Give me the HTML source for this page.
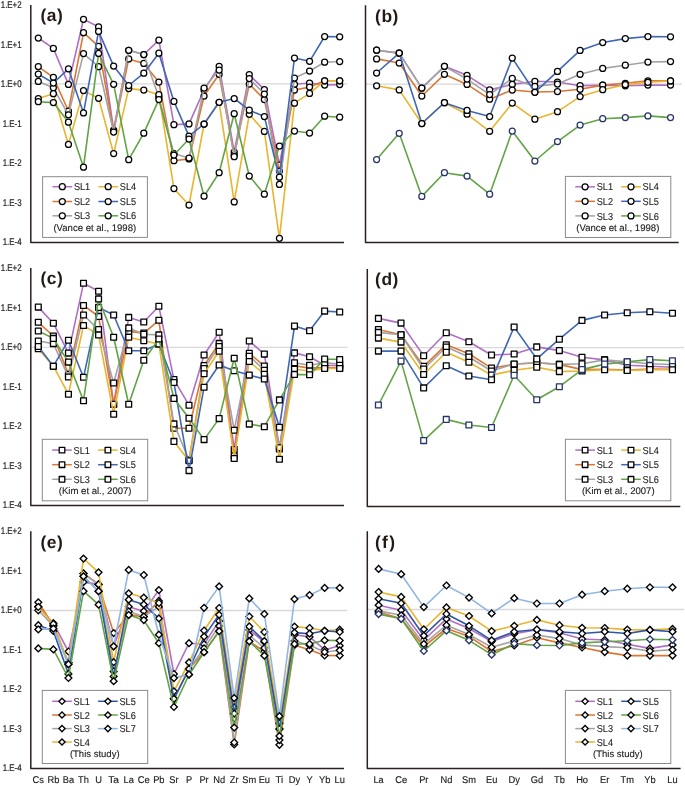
<!DOCTYPE html>
<html><head><meta charset="utf-8"><style>
html,body{margin:0;padding:0;background:#fff;}
svg{display:block;will-change:transform;}
text{font-family:"Liberation Sans",sans-serif;fill:#1c1c1c;text-rendering:geometricPrecision;}
.yl{fill:#2a2a2a;stroke:#2a2a2a;stroke-width:0.22px;}
.xl{stroke:#1c1c1c;stroke-width:0.15px;}
.lg{stroke:#1c1c1c;stroke-width:0.12px;}
.pl{font-size:17.4px;font-weight:bold;fill:#231a17;}
</style></head><body>
<svg width="685" height="786" viewBox="0 0 685 786">
<rect width="685" height="786" fill="#fff"/>
<line x1="30.8" y1="83.80" x2="347.5" y2="83.80" stroke="#d9d9d9" stroke-width="1.3"/>
<path d="M38.30 38.00L53.37 48.40L68.44 84.40L83.51 19.30L98.58 26.90L113.65 130.00L128.72 50.30L143.79 54.50L158.86 40.20L173.93 124.70L189.00 123.90L204.07 90.00L219.14 66.30L234.21 152.00L249.28 74.60L264.35 89.60L279.42 165.00L294.49 84.30L309.56 83.00L324.63 85.00L339.70 84.60" fill="none" stroke="#b06fc4" stroke-width="1.6" stroke-linejoin="round"/>
<circle cx="38.30" cy="38.00" r="3.0" fill="#fff" stroke="#000" stroke-width="1.25"/>
<circle cx="53.37" cy="48.40" r="3.0" fill="#fff" stroke="#000" stroke-width="1.25"/>
<circle cx="68.44" cy="84.40" r="3.0" fill="#fff" stroke="#000" stroke-width="1.25"/>
<circle cx="83.51" cy="19.30" r="3.0" fill="#fff" stroke="#000" stroke-width="1.25"/>
<circle cx="98.58" cy="26.90" r="3.0" fill="#fff" stroke="#000" stroke-width="1.25"/>
<circle cx="113.65" cy="130.00" r="3.0" fill="#fff" stroke="#000" stroke-width="1.25"/>
<circle cx="128.72" cy="50.30" r="3.0" fill="#fff" stroke="#000" stroke-width="1.25"/>
<circle cx="143.79" cy="54.50" r="3.0" fill="#fff" stroke="#000" stroke-width="1.25"/>
<circle cx="158.86" cy="40.20" r="3.0" fill="#fff" stroke="#000" stroke-width="1.25"/>
<circle cx="173.93" cy="124.70" r="3.0" fill="#fff" stroke="#000" stroke-width="1.25"/>
<circle cx="189.00" cy="123.90" r="3.0" fill="#fff" stroke="#000" stroke-width="1.25"/>
<circle cx="204.07" cy="90.00" r="3.0" fill="#fff" stroke="#000" stroke-width="1.25"/>
<circle cx="219.14" cy="66.30" r="3.0" fill="#fff" stroke="#000" stroke-width="1.25"/>
<circle cx="234.21" cy="152.00" r="3.0" fill="#fff" stroke="#000" stroke-width="1.25"/>
<circle cx="249.28" cy="74.60" r="3.0" fill="#fff" stroke="#000" stroke-width="1.25"/>
<circle cx="264.35" cy="89.60" r="3.0" fill="#fff" stroke="#000" stroke-width="1.25"/>
<circle cx="279.42" cy="165.00" r="3.0" fill="#fff" stroke="#000" stroke-width="1.25"/>
<circle cx="294.49" cy="84.30" r="3.0" fill="#fff" stroke="#000" stroke-width="1.25"/>
<circle cx="309.56" cy="83.00" r="3.0" fill="#fff" stroke="#000" stroke-width="1.25"/>
<circle cx="324.63" cy="85.00" r="3.0" fill="#fff" stroke="#000" stroke-width="1.25"/>
<circle cx="339.70" cy="84.60" r="3.0" fill="#fff" stroke="#000" stroke-width="1.25"/>
<path d="M38.30 66.60L53.37 77.30L68.44 111.00L83.51 32.70L98.58 46.30L113.65 131.00L128.72 58.90L143.79 63.40L158.86 82.10L173.93 160.70L189.00 158.90L204.07 96.00L219.14 74.30L234.21 155.00L249.28 84.10L264.35 99.50L279.42 171.00L294.49 90.00L309.56 87.10L324.63 80.80L339.70 80.80" fill="none" stroke="#dc7633" stroke-width="1.6" stroke-linejoin="round"/>
<circle cx="38.30" cy="66.60" r="3.0" fill="#fff" stroke="#000" stroke-width="1.25"/>
<circle cx="53.37" cy="77.30" r="3.0" fill="#fff" stroke="#000" stroke-width="1.25"/>
<circle cx="68.44" cy="111.00" r="3.0" fill="#fff" stroke="#000" stroke-width="1.25"/>
<circle cx="83.51" cy="32.70" r="3.0" fill="#fff" stroke="#000" stroke-width="1.25"/>
<circle cx="98.58" cy="46.30" r="3.0" fill="#fff" stroke="#000" stroke-width="1.25"/>
<circle cx="113.65" cy="131.00" r="3.0" fill="#fff" stroke="#000" stroke-width="1.25"/>
<circle cx="128.72" cy="58.90" r="3.0" fill="#fff" stroke="#000" stroke-width="1.25"/>
<circle cx="143.79" cy="63.40" r="3.0" fill="#fff" stroke="#000" stroke-width="1.25"/>
<circle cx="158.86" cy="82.10" r="3.0" fill="#fff" stroke="#000" stroke-width="1.25"/>
<circle cx="173.93" cy="160.70" r="3.0" fill="#fff" stroke="#000" stroke-width="1.25"/>
<circle cx="189.00" cy="158.90" r="3.0" fill="#fff" stroke="#000" stroke-width="1.25"/>
<circle cx="204.07" cy="96.00" r="3.0" fill="#fff" stroke="#000" stroke-width="1.25"/>
<circle cx="219.14" cy="74.30" r="3.0" fill="#fff" stroke="#000" stroke-width="1.25"/>
<circle cx="234.21" cy="155.00" r="3.0" fill="#fff" stroke="#000" stroke-width="1.25"/>
<circle cx="249.28" cy="84.10" r="3.0" fill="#fff" stroke="#000" stroke-width="1.25"/>
<circle cx="264.35" cy="99.50" r="3.0" fill="#fff" stroke="#000" stroke-width="1.25"/>
<circle cx="279.42" cy="171.00" r="3.0" fill="#fff" stroke="#000" stroke-width="1.25"/>
<circle cx="294.49" cy="90.00" r="3.0" fill="#fff" stroke="#000" stroke-width="1.25"/>
<circle cx="309.56" cy="87.10" r="3.0" fill="#fff" stroke="#000" stroke-width="1.25"/>
<circle cx="324.63" cy="80.80" r="3.0" fill="#fff" stroke="#000" stroke-width="1.25"/>
<circle cx="339.70" cy="80.80" r="3.0" fill="#fff" stroke="#000" stroke-width="1.25"/>
<path d="M38.30 81.40L53.37 87.80L68.44 114.80L83.51 53.60L98.58 66.70L113.65 132.00L128.72 50.30L143.79 54.50L158.86 97.00L173.93 153.60L189.00 158.00L204.07 88.00L219.14 70.00L234.21 156.70L249.28 78.50L264.35 94.00L279.42 184.40L294.49 78.00L309.56 71.00L324.63 62.20L339.70 61.50" fill="none" stroke="#a3a3a3" stroke-width="1.6" stroke-linejoin="round"/>
<circle cx="38.30" cy="81.40" r="3.0" fill="#fff" stroke="#000" stroke-width="1.25"/>
<circle cx="53.37" cy="87.80" r="3.0" fill="#fff" stroke="#000" stroke-width="1.25"/>
<circle cx="68.44" cy="114.80" r="3.0" fill="#fff" stroke="#000" stroke-width="1.25"/>
<circle cx="83.51" cy="53.60" r="3.0" fill="#fff" stroke="#000" stroke-width="1.25"/>
<circle cx="98.58" cy="66.70" r="3.0" fill="#fff" stroke="#000" stroke-width="1.25"/>
<circle cx="113.65" cy="132.00" r="3.0" fill="#fff" stroke="#000" stroke-width="1.25"/>
<circle cx="128.72" cy="50.30" r="3.0" fill="#fff" stroke="#000" stroke-width="1.25"/>
<circle cx="143.79" cy="54.50" r="3.0" fill="#fff" stroke="#000" stroke-width="1.25"/>
<circle cx="158.86" cy="97.00" r="3.0" fill="#fff" stroke="#000" stroke-width="1.25"/>
<circle cx="173.93" cy="153.60" r="3.0" fill="#fff" stroke="#000" stroke-width="1.25"/>
<circle cx="189.00" cy="158.00" r="3.0" fill="#fff" stroke="#000" stroke-width="1.25"/>
<circle cx="204.07" cy="88.00" r="3.0" fill="#fff" stroke="#000" stroke-width="1.25"/>
<circle cx="219.14" cy="70.00" r="3.0" fill="#fff" stroke="#000" stroke-width="1.25"/>
<circle cx="234.21" cy="156.70" r="3.0" fill="#fff" stroke="#000" stroke-width="1.25"/>
<circle cx="249.28" cy="78.50" r="3.0" fill="#fff" stroke="#000" stroke-width="1.25"/>
<circle cx="264.35" cy="94.00" r="3.0" fill="#fff" stroke="#000" stroke-width="1.25"/>
<circle cx="279.42" cy="184.40" r="3.0" fill="#fff" stroke="#000" stroke-width="1.25"/>
<circle cx="294.49" cy="78.00" r="3.0" fill="#fff" stroke="#000" stroke-width="1.25"/>
<circle cx="309.56" cy="71.00" r="3.0" fill="#fff" stroke="#000" stroke-width="1.25"/>
<circle cx="324.63" cy="62.20" r="3.0" fill="#fff" stroke="#000" stroke-width="1.25"/>
<circle cx="339.70" cy="61.50" r="3.0" fill="#fff" stroke="#000" stroke-width="1.25"/>
<path d="M38.30 98.60L53.37 93.70L68.44 144.40L83.51 90.60L98.58 98.30L113.65 153.60L128.72 88.60L143.79 90.10L158.86 94.70L173.93 188.60L189.00 205.00L204.07 124.00L219.14 102.30L234.21 201.90L249.28 114.30L264.35 131.40L279.42 238.30L294.49 103.20L309.56 93.40L324.63 80.80L339.70 80.80" fill="none" stroke="#e9b42f" stroke-width="1.6" stroke-linejoin="round"/>
<circle cx="38.30" cy="98.60" r="3.0" fill="#fff" stroke="#000" stroke-width="1.25"/>
<circle cx="53.37" cy="93.70" r="3.0" fill="#fff" stroke="#000" stroke-width="1.25"/>
<circle cx="68.44" cy="144.40" r="3.0" fill="#fff" stroke="#000" stroke-width="1.25"/>
<circle cx="83.51" cy="90.60" r="3.0" fill="#fff" stroke="#000" stroke-width="1.25"/>
<circle cx="98.58" cy="98.30" r="3.0" fill="#fff" stroke="#000" stroke-width="1.25"/>
<circle cx="113.65" cy="153.60" r="3.0" fill="#fff" stroke="#000" stroke-width="1.25"/>
<circle cx="128.72" cy="88.60" r="3.0" fill="#fff" stroke="#000" stroke-width="1.25"/>
<circle cx="143.79" cy="90.10" r="3.0" fill="#fff" stroke="#000" stroke-width="1.25"/>
<circle cx="158.86" cy="94.70" r="3.0" fill="#fff" stroke="#000" stroke-width="1.25"/>
<circle cx="173.93" cy="188.60" r="3.0" fill="#fff" stroke="#000" stroke-width="1.25"/>
<circle cx="189.00" cy="205.00" r="3.0" fill="#fff" stroke="#000" stroke-width="1.25"/>
<circle cx="204.07" cy="124.00" r="3.0" fill="#fff" stroke="#000" stroke-width="1.25"/>
<circle cx="219.14" cy="102.30" r="3.0" fill="#fff" stroke="#000" stroke-width="1.25"/>
<circle cx="234.21" cy="201.90" r="3.0" fill="#fff" stroke="#000" stroke-width="1.25"/>
<circle cx="249.28" cy="114.30" r="3.0" fill="#fff" stroke="#000" stroke-width="1.25"/>
<circle cx="264.35" cy="131.40" r="3.0" fill="#fff" stroke="#000" stroke-width="1.25"/>
<circle cx="279.42" cy="238.30" r="3.0" fill="#fff" stroke="#000" stroke-width="1.25"/>
<circle cx="294.49" cy="103.20" r="3.0" fill="#fff" stroke="#000" stroke-width="1.25"/>
<circle cx="309.56" cy="93.40" r="3.0" fill="#fff" stroke="#000" stroke-width="1.25"/>
<circle cx="324.63" cy="80.80" r="3.0" fill="#fff" stroke="#000" stroke-width="1.25"/>
<circle cx="339.70" cy="80.80" r="3.0" fill="#fff" stroke="#000" stroke-width="1.25"/>
<path d="M38.30 74.10L53.37 83.00L68.44 68.80L83.51 112.90L98.58 31.40L113.65 66.10L128.72 85.50L143.79 73.20L158.86 53.20L173.93 101.40L189.00 136.10L204.07 124.00L219.14 102.30L234.21 98.50L249.28 110.20L264.35 116.60L279.42 177.20L294.49 58.00L309.56 61.30L324.63 36.50L339.70 36.80" fill="none" stroke="#3f67b5" stroke-width="1.6" stroke-linejoin="round"/>
<circle cx="38.30" cy="74.10" r="3.0" fill="#fff" stroke="#000" stroke-width="1.25"/>
<circle cx="53.37" cy="83.00" r="3.0" fill="#fff" stroke="#000" stroke-width="1.25"/>
<circle cx="68.44" cy="68.80" r="3.0" fill="#fff" stroke="#000" stroke-width="1.25"/>
<circle cx="83.51" cy="112.90" r="3.0" fill="#fff" stroke="#000" stroke-width="1.25"/>
<circle cx="98.58" cy="31.40" r="3.0" fill="#fff" stroke="#000" stroke-width="1.25"/>
<circle cx="113.65" cy="66.10" r="3.0" fill="#fff" stroke="#000" stroke-width="1.25"/>
<circle cx="128.72" cy="85.50" r="3.0" fill="#fff" stroke="#000" stroke-width="1.25"/>
<circle cx="143.79" cy="73.20" r="3.0" fill="#fff" stroke="#000" stroke-width="1.25"/>
<circle cx="158.86" cy="53.20" r="3.0" fill="#fff" stroke="#000" stroke-width="1.25"/>
<circle cx="173.93" cy="101.40" r="3.0" fill="#fff" stroke="#000" stroke-width="1.25"/>
<circle cx="189.00" cy="136.10" r="3.0" fill="#fff" stroke="#000" stroke-width="1.25"/>
<circle cx="204.07" cy="124.00" r="3.0" fill="#fff" stroke="#000" stroke-width="1.25"/>
<circle cx="219.14" cy="102.30" r="3.0" fill="#fff" stroke="#000" stroke-width="1.25"/>
<circle cx="234.21" cy="98.50" r="3.0" fill="#fff" stroke="#000" stroke-width="1.25"/>
<circle cx="249.28" cy="110.20" r="3.0" fill="#fff" stroke="#000" stroke-width="1.25"/>
<circle cx="264.35" cy="116.60" r="3.0" fill="#fff" stroke="#000" stroke-width="1.25"/>
<circle cx="279.42" cy="177.20" r="3.0" fill="#fff" stroke="#000" stroke-width="1.25"/>
<circle cx="294.49" cy="58.00" r="3.0" fill="#fff" stroke="#000" stroke-width="1.25"/>
<circle cx="309.56" cy="61.30" r="3.0" fill="#fff" stroke="#000" stroke-width="1.25"/>
<circle cx="324.63" cy="36.50" r="3.0" fill="#fff" stroke="#000" stroke-width="1.25"/>
<circle cx="339.70" cy="36.80" r="3.0" fill="#fff" stroke="#000" stroke-width="1.25"/>
<path d="M38.30 101.70L53.37 102.60L68.44 122.20L83.51 167.20L98.58 53.40L113.65 84.30L128.72 159.70L143.79 133.20L158.86 99.60L173.93 155.00L189.00 139.00L204.07 196.20L219.14 172.70L234.21 113.70L249.28 176.00L264.35 194.20L279.42 146.00L294.49 131.00L309.56 133.00L324.63 116.20L339.70 117.20" fill="none" stroke="#62a445" stroke-width="1.6" stroke-linejoin="round"/>
<circle cx="38.30" cy="101.70" r="3.0" fill="#fff" stroke="#000" stroke-width="1.25"/>
<circle cx="53.37" cy="102.60" r="3.0" fill="#fff" stroke="#000" stroke-width="1.25"/>
<circle cx="68.44" cy="122.20" r="3.0" fill="#fff" stroke="#000" stroke-width="1.25"/>
<circle cx="83.51" cy="167.20" r="3.0" fill="#fff" stroke="#000" stroke-width="1.25"/>
<circle cx="98.58" cy="53.40" r="3.0" fill="#fff" stroke="#000" stroke-width="1.25"/>
<circle cx="113.65" cy="84.30" r="3.0" fill="#fff" stroke="#000" stroke-width="1.25"/>
<circle cx="128.72" cy="159.70" r="3.0" fill="#fff" stroke="#000" stroke-width="1.25"/>
<circle cx="143.79" cy="133.20" r="3.0" fill="#fff" stroke="#000" stroke-width="1.25"/>
<circle cx="158.86" cy="99.60" r="3.0" fill="#fff" stroke="#000" stroke-width="1.25"/>
<circle cx="173.93" cy="155.00" r="3.0" fill="#fff" stroke="#000" stroke-width="1.25"/>
<circle cx="189.00" cy="139.00" r="3.0" fill="#fff" stroke="#000" stroke-width="1.25"/>
<circle cx="204.07" cy="196.20" r="3.0" fill="#fff" stroke="#000" stroke-width="1.25"/>
<circle cx="219.14" cy="172.70" r="3.0" fill="#fff" stroke="#000" stroke-width="1.25"/>
<circle cx="234.21" cy="113.70" r="3.0" fill="#fff" stroke="#000" stroke-width="1.25"/>
<circle cx="249.28" cy="176.00" r="3.0" fill="#fff" stroke="#000" stroke-width="1.25"/>
<circle cx="264.35" cy="194.20" r="3.0" fill="#fff" stroke="#000" stroke-width="1.25"/>
<circle cx="279.42" cy="146.00" r="3.0" fill="#fff" stroke="#000" stroke-width="1.25"/>
<circle cx="294.49" cy="131.00" r="3.0" fill="#fff" stroke="#000" stroke-width="1.25"/>
<circle cx="309.56" cy="133.00" r="3.0" fill="#fff" stroke="#000" stroke-width="1.25"/>
<circle cx="324.63" cy="116.20" r="3.0" fill="#fff" stroke="#000" stroke-width="1.25"/>
<circle cx="339.70" cy="117.20" r="3.0" fill="#fff" stroke="#000" stroke-width="1.25"/>
<path d="M30.8 5.1V242.6H344.0" fill="none" stroke="#2a211f" stroke-width="1.5" stroke-linejoin="round"/>
<text x="21.60" y="8.30" text-anchor="end" class="yl" style="font-size:9.7px" textLength="20.86" lengthAdjust="spacingAndGlyphs">1.E+2</text>
<text x="21.60" y="47.82" text-anchor="end" class="yl" style="font-size:9.7px" textLength="20.86" lengthAdjust="spacingAndGlyphs">1.E+1</text>
<text x="21.60" y="87.34" text-anchor="end" class="yl" style="font-size:9.7px" textLength="20.86" lengthAdjust="spacingAndGlyphs">1.E+0</text>
<text x="21.60" y="126.86" text-anchor="end" class="yl" style="font-size:9.7px" textLength="18.88" lengthAdjust="spacingAndGlyphs">1.E-1</text>
<text x="21.60" y="166.38" text-anchor="end" class="yl" style="font-size:9.7px" textLength="18.88" lengthAdjust="spacingAndGlyphs">1.E-2</text>
<text x="21.60" y="205.90" text-anchor="end" class="yl" style="font-size:9.7px" textLength="18.88" lengthAdjust="spacingAndGlyphs">1.E-3</text>
<text x="21.60" y="245.42" text-anchor="end" class="yl" style="font-size:9.7px" textLength="18.88" lengthAdjust="spacingAndGlyphs">1.E-4</text>
<text x="40.4" y="21.4" class="pl" style="letter-spacing:0.6px">(a)</text>
<rect x="42.6" y="176.7" width="104.8" height="60.7" fill="#fff" stroke="#8a8a8a" stroke-width="1"/>
<line x1="52.5" y1="186.7" x2="72.1" y2="186.7" stroke="#b06fc4" stroke-width="1.5"/>
<circle cx="62.30" cy="186.70" r="3.0" fill="#fff" stroke="#000" stroke-width="1.25"/>
<text x="73.90" y="190.30" text-anchor="start" class="lg" style="font-size:10.0px" textLength="16.30" lengthAdjust="spacingAndGlyphs">SL1</text>
<line x1="98.4" y1="186.7" x2="118.0" y2="186.7" stroke="#e9b42f" stroke-width="1.5"/>
<circle cx="108.20" cy="186.70" r="3.0" fill="#fff" stroke="#000" stroke-width="1.25"/>
<text x="119.80" y="190.30" text-anchor="start" class="lg" style="font-size:10.0px" textLength="16.30" lengthAdjust="spacingAndGlyphs">SL4</text>
<line x1="52.5" y1="201.5" x2="72.1" y2="201.5" stroke="#dc7633" stroke-width="1.5"/>
<circle cx="62.30" cy="201.50" r="3.0" fill="#fff" stroke="#000" stroke-width="1.25"/>
<text x="73.90" y="205.10" text-anchor="start" class="lg" style="font-size:10.0px" textLength="16.30" lengthAdjust="spacingAndGlyphs">SL2</text>
<line x1="98.4" y1="201.5" x2="118.0" y2="201.5" stroke="#3f67b5" stroke-width="1.5"/>
<circle cx="108.20" cy="201.50" r="3.0" fill="#fff" stroke="#000" stroke-width="1.25"/>
<text x="119.80" y="205.10" text-anchor="start" class="lg" style="font-size:10.0px" textLength="16.30" lengthAdjust="spacingAndGlyphs">SL5</text>
<line x1="52.5" y1="215.8" x2="72.1" y2="215.8" stroke="#a3a3a3" stroke-width="1.5"/>
<circle cx="62.30" cy="215.80" r="3.0" fill="#fff" stroke="#000" stroke-width="1.25"/>
<text x="73.90" y="219.40" text-anchor="start" class="lg" style="font-size:10.0px" textLength="16.30" lengthAdjust="spacingAndGlyphs">SL3</text>
<line x1="98.4" y1="215.8" x2="118.0" y2="215.8" stroke="#62a445" stroke-width="1.5"/>
<circle cx="108.20" cy="215.80" r="3.0" fill="#fff" stroke="#000" stroke-width="1.25"/>
<text x="119.80" y="219.40" text-anchor="start" class="lg" style="font-size:10.0px" textLength="16.30" lengthAdjust="spacingAndGlyphs">SL6</text>
<text x="53.40" y="231.30" text-anchor="start" class="lg" style="font-size:9.6px" textLength="82.80" lengthAdjust="spacingAndGlyphs">(Vance et al., 1998)</text>
<line x1="365.5" y1="84.20" x2="682.2" y2="84.20" stroke="#d9d9d9" stroke-width="1.3"/>
<path d="M376.60 50.20L399.21 53.10L421.82 88.10L444.43 66.30L467.04 75.30L489.65 89.90L512.26 84.40L534.87 81.30L557.48 82.00L580.09 85.70L602.70 85.10L625.31 85.80L647.92 85.10L670.53 85.10" fill="none" stroke="#b06fc4" stroke-width="1.6" stroke-linejoin="round"/>
<circle cx="376.60" cy="50.20" r="3.0" fill="#fff" stroke="#000" stroke-width="1.25"/>
<circle cx="399.21" cy="53.10" r="3.0" fill="#fff" stroke="#000" stroke-width="1.25"/>
<circle cx="421.82" cy="88.10" r="3.0" fill="#fff" stroke="#000" stroke-width="1.25"/>
<circle cx="444.43" cy="66.30" r="3.0" fill="#fff" stroke="#000" stroke-width="1.25"/>
<circle cx="467.04" cy="75.30" r="3.0" fill="#fff" stroke="#000" stroke-width="1.25"/>
<circle cx="489.65" cy="89.90" r="3.0" fill="#fff" stroke="#000" stroke-width="1.25"/>
<circle cx="512.26" cy="84.40" r="3.0" fill="#fff" stroke="#000" stroke-width="1.25"/>
<circle cx="534.87" cy="81.30" r="3.0" fill="#fff" stroke="#000" stroke-width="1.25"/>
<circle cx="557.48" cy="82.00" r="3.0" fill="#fff" stroke="#000" stroke-width="1.25"/>
<circle cx="580.09" cy="85.70" r="3.0" fill="#fff" stroke="#000" stroke-width="1.25"/>
<circle cx="602.70" cy="85.10" r="3.0" fill="#fff" stroke="#000" stroke-width="1.25"/>
<circle cx="625.31" cy="85.80" r="3.0" fill="#fff" stroke="#000" stroke-width="1.25"/>
<circle cx="647.92" cy="85.10" r="3.0" fill="#fff" stroke="#000" stroke-width="1.25"/>
<circle cx="670.53" cy="85.10" r="3.0" fill="#fff" stroke="#000" stroke-width="1.25"/>
<path d="M376.60 58.90L399.21 63.00L421.82 96.00L444.43 74.30L467.04 84.40L489.65 99.20L512.26 90.00L534.87 92.00L557.48 91.50L580.09 89.30L602.70 85.10L625.31 83.30L647.92 80.90L670.53 80.90" fill="none" stroke="#dc7633" stroke-width="1.6" stroke-linejoin="round"/>
<circle cx="376.60" cy="58.90" r="3.0" fill="#fff" stroke="#000" stroke-width="1.25"/>
<circle cx="399.21" cy="63.00" r="3.0" fill="#fff" stroke="#000" stroke-width="1.25"/>
<circle cx="421.82" cy="96.00" r="3.0" fill="#fff" stroke="#000" stroke-width="1.25"/>
<circle cx="444.43" cy="74.30" r="3.0" fill="#fff" stroke="#000" stroke-width="1.25"/>
<circle cx="467.04" cy="84.40" r="3.0" fill="#fff" stroke="#000" stroke-width="1.25"/>
<circle cx="489.65" cy="99.20" r="3.0" fill="#fff" stroke="#000" stroke-width="1.25"/>
<circle cx="512.26" cy="90.00" r="3.0" fill="#fff" stroke="#000" stroke-width="1.25"/>
<circle cx="534.87" cy="92.00" r="3.0" fill="#fff" stroke="#000" stroke-width="1.25"/>
<circle cx="557.48" cy="91.50" r="3.0" fill="#fff" stroke="#000" stroke-width="1.25"/>
<circle cx="580.09" cy="89.30" r="3.0" fill="#fff" stroke="#000" stroke-width="1.25"/>
<circle cx="602.70" cy="85.10" r="3.0" fill="#fff" stroke="#000" stroke-width="1.25"/>
<circle cx="625.31" cy="83.30" r="3.0" fill="#fff" stroke="#000" stroke-width="1.25"/>
<circle cx="647.92" cy="80.90" r="3.0" fill="#fff" stroke="#000" stroke-width="1.25"/>
<circle cx="670.53" cy="80.90" r="3.0" fill="#fff" stroke="#000" stroke-width="1.25"/>
<path d="M376.60 50.20L399.21 53.10L421.82 88.10L444.43 66.30L467.04 79.10L489.65 94.60L512.26 78.40L534.87 86.40L557.48 84.00L580.09 74.30L602.70 68.40L625.31 65.20L647.92 62.00L670.53 61.60" fill="none" stroke="#a3a3a3" stroke-width="1.6" stroke-linejoin="round"/>
<circle cx="376.60" cy="50.20" r="3.0" fill="#fff" stroke="#000" stroke-width="1.25"/>
<circle cx="399.21" cy="53.10" r="3.0" fill="#fff" stroke="#000" stroke-width="1.25"/>
<circle cx="421.82" cy="88.10" r="3.0" fill="#fff" stroke="#000" stroke-width="1.25"/>
<circle cx="444.43" cy="66.30" r="3.0" fill="#fff" stroke="#000" stroke-width="1.25"/>
<circle cx="467.04" cy="79.10" r="3.0" fill="#fff" stroke="#000" stroke-width="1.25"/>
<circle cx="489.65" cy="94.60" r="3.0" fill="#fff" stroke="#000" stroke-width="1.25"/>
<circle cx="512.26" cy="78.40" r="3.0" fill="#fff" stroke="#000" stroke-width="1.25"/>
<circle cx="534.87" cy="86.40" r="3.0" fill="#fff" stroke="#000" stroke-width="1.25"/>
<circle cx="557.48" cy="84.00" r="3.0" fill="#fff" stroke="#000" stroke-width="1.25"/>
<circle cx="580.09" cy="74.30" r="3.0" fill="#fff" stroke="#000" stroke-width="1.25"/>
<circle cx="602.70" cy="68.40" r="3.0" fill="#fff" stroke="#000" stroke-width="1.25"/>
<circle cx="625.31" cy="65.20" r="3.0" fill="#fff" stroke="#000" stroke-width="1.25"/>
<circle cx="647.92" cy="62.00" r="3.0" fill="#fff" stroke="#000" stroke-width="1.25"/>
<circle cx="670.53" cy="61.60" r="3.0" fill="#fff" stroke="#000" stroke-width="1.25"/>
<path d="M376.60 85.80L399.21 89.90L421.82 123.50L444.43 102.70L467.04 114.20L489.65 131.30L512.26 103.10L534.87 119.20L557.48 111.70L580.09 96.60L602.70 89.70L625.31 84.70L647.92 82.30L670.53 80.90" fill="none" stroke="#e9b42f" stroke-width="1.6" stroke-linejoin="round"/>
<circle cx="376.60" cy="85.80" r="3.0" fill="#fff" stroke="#000" stroke-width="1.25"/>
<circle cx="399.21" cy="89.90" r="3.0" fill="#fff" stroke="#000" stroke-width="1.25"/>
<circle cx="421.82" cy="123.50" r="3.0" fill="#fff" stroke="#000" stroke-width="1.25"/>
<circle cx="444.43" cy="102.70" r="3.0" fill="#fff" stroke="#000" stroke-width="1.25"/>
<circle cx="467.04" cy="114.20" r="3.0" fill="#fff" stroke="#000" stroke-width="1.25"/>
<circle cx="489.65" cy="131.30" r="3.0" fill="#fff" stroke="#000" stroke-width="1.25"/>
<circle cx="512.26" cy="103.10" r="3.0" fill="#fff" stroke="#000" stroke-width="1.25"/>
<circle cx="534.87" cy="119.20" r="3.0" fill="#fff" stroke="#000" stroke-width="1.25"/>
<circle cx="557.48" cy="111.70" r="3.0" fill="#fff" stroke="#000" stroke-width="1.25"/>
<circle cx="580.09" cy="96.60" r="3.0" fill="#fff" stroke="#000" stroke-width="1.25"/>
<circle cx="602.70" cy="89.70" r="3.0" fill="#fff" stroke="#000" stroke-width="1.25"/>
<circle cx="625.31" cy="84.70" r="3.0" fill="#fff" stroke="#000" stroke-width="1.25"/>
<circle cx="647.92" cy="82.30" r="3.0" fill="#fff" stroke="#000" stroke-width="1.25"/>
<circle cx="670.53" cy="80.90" r="3.0" fill="#fff" stroke="#000" stroke-width="1.25"/>
<path d="M376.60 73.00L399.21 53.10L421.82 123.50L444.43 102.70L467.04 110.40L489.65 116.50L512.26 58.10L534.87 92.30L557.48 71.40L580.09 50.40L602.70 42.50L625.31 38.60L647.92 36.50L670.53 36.80" fill="none" stroke="#3f67b5" stroke-width="1.6" stroke-linejoin="round"/>
<circle cx="376.60" cy="73.00" r="3.0" fill="#fff" stroke="#000" stroke-width="1.25"/>
<circle cx="399.21" cy="53.10" r="3.0" fill="#fff" stroke="#000" stroke-width="1.25"/>
<circle cx="421.82" cy="123.50" r="3.0" fill="#fff" stroke="#000" stroke-width="1.25"/>
<circle cx="444.43" cy="102.70" r="3.0" fill="#fff" stroke="#000" stroke-width="1.25"/>
<circle cx="467.04" cy="110.40" r="3.0" fill="#fff" stroke="#000" stroke-width="1.25"/>
<circle cx="489.65" cy="116.50" r="3.0" fill="#fff" stroke="#000" stroke-width="1.25"/>
<circle cx="512.26" cy="58.10" r="3.0" fill="#fff" stroke="#000" stroke-width="1.25"/>
<circle cx="534.87" cy="92.30" r="3.0" fill="#fff" stroke="#000" stroke-width="1.25"/>
<circle cx="557.48" cy="71.40" r="3.0" fill="#fff" stroke="#000" stroke-width="1.25"/>
<circle cx="580.09" cy="50.40" r="3.0" fill="#fff" stroke="#000" stroke-width="1.25"/>
<circle cx="602.70" cy="42.50" r="3.0" fill="#fff" stroke="#000" stroke-width="1.25"/>
<circle cx="625.31" cy="38.60" r="3.0" fill="#fff" stroke="#000" stroke-width="1.25"/>
<circle cx="647.92" cy="36.50" r="3.0" fill="#fff" stroke="#000" stroke-width="1.25"/>
<circle cx="670.53" cy="36.80" r="3.0" fill="#fff" stroke="#000" stroke-width="1.25"/>
<path d="M376.60 159.60L399.21 133.30L421.82 196.40L444.43 172.70L467.04 176.10L489.65 194.20L512.26 131.00L534.87 161.00L557.48 141.60L580.09 125.10L602.70 118.70L625.31 117.60L647.92 115.90L670.53 117.60" fill="none" stroke="#62a445" stroke-width="1.6" stroke-linejoin="round"/>
<circle cx="376.60" cy="159.60" r="3.0" fill="#fff" stroke="#27336b" stroke-width="1.25"/>
<circle cx="399.21" cy="133.30" r="3.0" fill="#fff" stroke="#27336b" stroke-width="1.25"/>
<circle cx="421.82" cy="196.40" r="3.0" fill="#fff" stroke="#27336b" stroke-width="1.25"/>
<circle cx="444.43" cy="172.70" r="3.0" fill="#fff" stroke="#27336b" stroke-width="1.25"/>
<circle cx="467.04" cy="176.10" r="3.0" fill="#fff" stroke="#27336b" stroke-width="1.25"/>
<circle cx="489.65" cy="194.20" r="3.0" fill="#fff" stroke="#27336b" stroke-width="1.25"/>
<circle cx="512.26" cy="131.00" r="3.0" fill="#fff" stroke="#27336b" stroke-width="1.25"/>
<circle cx="534.87" cy="161.00" r="3.0" fill="#fff" stroke="#27336b" stroke-width="1.25"/>
<circle cx="557.48" cy="141.60" r="3.0" fill="#fff" stroke="#27336b" stroke-width="1.25"/>
<circle cx="580.09" cy="125.10" r="3.0" fill="#fff" stroke="#27336b" stroke-width="1.25"/>
<circle cx="602.70" cy="118.70" r="3.0" fill="#fff" stroke="#27336b" stroke-width="1.25"/>
<circle cx="625.31" cy="117.60" r="3.0" fill="#fff" stroke="#27336b" stroke-width="1.25"/>
<circle cx="647.92" cy="115.90" r="3.0" fill="#fff" stroke="#27336b" stroke-width="1.25"/>
<circle cx="670.53" cy="117.60" r="3.0" fill="#fff" stroke="#27336b" stroke-width="1.25"/>
<path d="M365.5 5.3V242.6H678.7" fill="none" stroke="#2a211f" stroke-width="1.5" stroke-linejoin="round"/>
<text x="375.0" y="21.6" class="pl" style="letter-spacing:0.6px">(b)</text>
<rect x="565.4" y="176.4" width="105.4" height="61.1" fill="#fff" stroke="#8a8a8a" stroke-width="1"/>
<line x1="575.3" y1="186.8" x2="594.9" y2="186.8" stroke="#b06fc4" stroke-width="1.5"/>
<circle cx="585.10" cy="186.80" r="3.0" fill="#fff" stroke="#000" stroke-width="1.25"/>
<text x="596.70" y="190.40" text-anchor="start" class="lg" style="font-size:10.0px" textLength="16.30" lengthAdjust="spacingAndGlyphs">SL1</text>
<line x1="621.2" y1="186.8" x2="640.8" y2="186.8" stroke="#e9b42f" stroke-width="1.5"/>
<circle cx="631.00" cy="186.80" r="3.0" fill="#fff" stroke="#000" stroke-width="1.25"/>
<text x="642.60" y="190.40" text-anchor="start" class="lg" style="font-size:10.0px" textLength="16.30" lengthAdjust="spacingAndGlyphs">SL4</text>
<line x1="575.3" y1="201.3" x2="594.9" y2="201.3" stroke="#dc7633" stroke-width="1.5"/>
<circle cx="585.10" cy="201.30" r="3.0" fill="#fff" stroke="#000" stroke-width="1.25"/>
<text x="596.70" y="204.90" text-anchor="start" class="lg" style="font-size:10.0px" textLength="16.30" lengthAdjust="spacingAndGlyphs">SL2</text>
<line x1="621.2" y1="201.3" x2="640.8" y2="201.3" stroke="#3f67b5" stroke-width="1.5"/>
<circle cx="631.00" cy="201.30" r="3.0" fill="#fff" stroke="#000" stroke-width="1.25"/>
<text x="642.60" y="204.90" text-anchor="start" class="lg" style="font-size:10.0px" textLength="16.30" lengthAdjust="spacingAndGlyphs">SL5</text>
<line x1="575.3" y1="215.9" x2="594.9" y2="215.9" stroke="#a3a3a3" stroke-width="1.5"/>
<circle cx="585.10" cy="215.90" r="3.0" fill="#fff" stroke="#000" stroke-width="1.25"/>
<text x="596.70" y="219.50" text-anchor="start" class="lg" style="font-size:10.0px" textLength="16.30" lengthAdjust="spacingAndGlyphs">SL3</text>
<line x1="621.2" y1="215.9" x2="640.8" y2="215.9" stroke="#62a445" stroke-width="1.5"/>
<circle cx="631.00" cy="215.90" r="3.0" fill="#fff" stroke="#000" stroke-width="1.25"/>
<text x="642.60" y="219.50" text-anchor="start" class="lg" style="font-size:10.0px" textLength="16.30" lengthAdjust="spacingAndGlyphs">SL6</text>
<text x="576.30" y="231.30" text-anchor="start" class="lg" style="font-size:9.6px" textLength="83.10" lengthAdjust="spacingAndGlyphs">(Vance et al., 1998)</text>
<line x1="30.8" y1="347.40" x2="347.5" y2="347.40" stroke="#d9d9d9" stroke-width="1.3"/>
<path d="M38.30 307.10L53.37 323.20L68.44 353.10L83.51 283.30L98.58 291.30L113.65 404.30L128.72 317.40L143.79 322.00L158.86 306.30L173.93 379.60L189.00 405.20L204.07 355.00L219.14 332.30L234.21 449.50L249.28 341.00L264.35 354.10L279.42 447.70L294.49 352.90L309.56 356.70L324.63 365.30L339.70 365.80" fill="none" stroke="#b06fc4" stroke-width="1.6" stroke-linejoin="round"/>
<rect x="35.40" y="304.20" width="5.80" height="5.80" fill="#fff" stroke="#000" stroke-width="1.3" stroke-linejoin="round"/>
<rect x="50.47" y="320.30" width="5.80" height="5.80" fill="#fff" stroke="#000" stroke-width="1.3" stroke-linejoin="round"/>
<rect x="65.54" y="350.20" width="5.80" height="5.80" fill="#fff" stroke="#000" stroke-width="1.3" stroke-linejoin="round"/>
<rect x="80.61" y="280.40" width="5.80" height="5.80" fill="#fff" stroke="#000" stroke-width="1.3" stroke-linejoin="round"/>
<rect x="95.68" y="288.40" width="5.80" height="5.80" fill="#fff" stroke="#000" stroke-width="1.3" stroke-linejoin="round"/>
<rect x="110.75" y="401.40" width="5.80" height="5.80" fill="#fff" stroke="#000" stroke-width="1.3" stroke-linejoin="round"/>
<rect x="125.82" y="314.50" width="5.80" height="5.80" fill="#fff" stroke="#000" stroke-width="1.3" stroke-linejoin="round"/>
<rect x="140.89" y="319.10" width="5.80" height="5.80" fill="#fff" stroke="#000" stroke-width="1.3" stroke-linejoin="round"/>
<rect x="155.96" y="303.40" width="5.80" height="5.80" fill="#fff" stroke="#000" stroke-width="1.3" stroke-linejoin="round"/>
<rect x="171.03" y="376.70" width="5.80" height="5.80" fill="#fff" stroke="#000" stroke-width="1.3" stroke-linejoin="round"/>
<rect x="186.10" y="402.30" width="5.80" height="5.80" fill="#fff" stroke="#000" stroke-width="1.3" stroke-linejoin="round"/>
<rect x="201.17" y="352.10" width="5.80" height="5.80" fill="#fff" stroke="#000" stroke-width="1.3" stroke-linejoin="round"/>
<rect x="216.24" y="329.40" width="5.80" height="5.80" fill="#fff" stroke="#000" stroke-width="1.3" stroke-linejoin="round"/>
<rect x="231.31" y="446.60" width="5.80" height="5.80" fill="#fff" stroke="#000" stroke-width="1.3" stroke-linejoin="round"/>
<rect x="246.38" y="338.10" width="5.80" height="5.80" fill="#fff" stroke="#000" stroke-width="1.3" stroke-linejoin="round"/>
<rect x="261.45" y="351.20" width="5.80" height="5.80" fill="#fff" stroke="#000" stroke-width="1.3" stroke-linejoin="round"/>
<rect x="276.52" y="444.80" width="5.80" height="5.80" fill="#fff" stroke="#000" stroke-width="1.3" stroke-linejoin="round"/>
<rect x="291.59" y="350.00" width="5.80" height="5.80" fill="#fff" stroke="#000" stroke-width="1.3" stroke-linejoin="round"/>
<rect x="306.66" y="353.80" width="5.80" height="5.80" fill="#fff" stroke="#000" stroke-width="1.3" stroke-linejoin="round"/>
<rect x="321.73" y="362.40" width="5.80" height="5.80" fill="#fff" stroke="#000" stroke-width="1.3" stroke-linejoin="round"/>
<rect x="336.80" y="362.90" width="5.80" height="5.80" fill="#fff" stroke="#000" stroke-width="1.3" stroke-linejoin="round"/>
<path d="M38.30 322.30L53.37 336.00L68.44 374.40L83.51 305.50L98.58 316.40L113.65 404.30L128.72 331.40L143.79 333.10L158.86 320.30L173.93 428.30L189.00 428.30L204.07 365.50L219.14 343.40L234.21 456.00L249.28 353.30L264.35 366.10L279.42 449.00L294.49 365.80L309.56 368.10L324.63 367.60L339.70 368.10" fill="none" stroke="#dc7633" stroke-width="1.6" stroke-linejoin="round"/>
<rect x="35.40" y="319.40" width="5.80" height="5.80" fill="#fff" stroke="#000" stroke-width="1.3" stroke-linejoin="round"/>
<rect x="50.47" y="333.10" width="5.80" height="5.80" fill="#fff" stroke="#000" stroke-width="1.3" stroke-linejoin="round"/>
<rect x="65.54" y="371.50" width="5.80" height="5.80" fill="#fff" stroke="#000" stroke-width="1.3" stroke-linejoin="round"/>
<rect x="80.61" y="302.60" width="5.80" height="5.80" fill="#fff" stroke="#000" stroke-width="1.3" stroke-linejoin="round"/>
<rect x="95.68" y="313.50" width="5.80" height="5.80" fill="#fff" stroke="#000" stroke-width="1.3" stroke-linejoin="round"/>
<rect x="110.75" y="401.40" width="5.80" height="5.80" fill="#fff" stroke="#000" stroke-width="1.3" stroke-linejoin="round"/>
<rect x="125.82" y="328.50" width="5.80" height="5.80" fill="#fff" stroke="#000" stroke-width="1.3" stroke-linejoin="round"/>
<rect x="140.89" y="330.20" width="5.80" height="5.80" fill="#fff" stroke="#000" stroke-width="1.3" stroke-linejoin="round"/>
<rect x="155.96" y="317.40" width="5.80" height="5.80" fill="#fff" stroke="#000" stroke-width="1.3" stroke-linejoin="round"/>
<rect x="171.03" y="425.40" width="5.80" height="5.80" fill="#fff" stroke="#000" stroke-width="1.3" stroke-linejoin="round"/>
<rect x="186.10" y="425.40" width="5.80" height="5.80" fill="#fff" stroke="#000" stroke-width="1.3" stroke-linejoin="round"/>
<rect x="201.17" y="362.60" width="5.80" height="5.80" fill="#fff" stroke="#000" stroke-width="1.3" stroke-linejoin="round"/>
<rect x="216.24" y="340.50" width="5.80" height="5.80" fill="#fff" stroke="#000" stroke-width="1.3" stroke-linejoin="round"/>
<rect x="231.31" y="453.10" width="5.80" height="5.80" fill="#fff" stroke="#000" stroke-width="1.3" stroke-linejoin="round"/>
<rect x="246.38" y="350.40" width="5.80" height="5.80" fill="#fff" stroke="#000" stroke-width="1.3" stroke-linejoin="round"/>
<rect x="261.45" y="363.20" width="5.80" height="5.80" fill="#fff" stroke="#000" stroke-width="1.3" stroke-linejoin="round"/>
<rect x="276.52" y="446.10" width="5.80" height="5.80" fill="#fff" stroke="#000" stroke-width="1.3" stroke-linejoin="round"/>
<rect x="291.59" y="362.90" width="5.80" height="5.80" fill="#fff" stroke="#000" stroke-width="1.3" stroke-linejoin="round"/>
<rect x="306.66" y="365.20" width="5.80" height="5.80" fill="#fff" stroke="#000" stroke-width="1.3" stroke-linejoin="round"/>
<rect x="321.73" y="364.70" width="5.80" height="5.80" fill="#fff" stroke="#000" stroke-width="1.3" stroke-linejoin="round"/>
<rect x="336.80" y="365.20" width="5.80" height="5.80" fill="#fff" stroke="#000" stroke-width="1.3" stroke-linejoin="round"/>
<path d="M38.30 341.00L53.37 343.60L68.44 377.00L83.51 315.00L98.58 329.60L113.65 383.00L128.72 327.90L143.79 334.30L158.86 334.90L173.93 423.90L189.00 460.00L204.07 368.50L219.14 346.60L234.21 430.20L249.28 356.20L264.35 370.20L279.42 447.70L294.49 362.80L309.56 365.30L324.63 362.80L339.70 364.10" fill="none" stroke="#a3a3a3" stroke-width="1.6" stroke-linejoin="round"/>
<rect x="35.40" y="338.10" width="5.80" height="5.80" fill="#fff" stroke="#000" stroke-width="1.3" stroke-linejoin="round"/>
<rect x="50.47" y="340.70" width="5.80" height="5.80" fill="#fff" stroke="#000" stroke-width="1.3" stroke-linejoin="round"/>
<rect x="65.54" y="374.10" width="5.80" height="5.80" fill="#fff" stroke="#000" stroke-width="1.3" stroke-linejoin="round"/>
<rect x="80.61" y="312.10" width="5.80" height="5.80" fill="#fff" stroke="#000" stroke-width="1.3" stroke-linejoin="round"/>
<rect x="95.68" y="326.70" width="5.80" height="5.80" fill="#fff" stroke="#000" stroke-width="1.3" stroke-linejoin="round"/>
<rect x="110.75" y="380.10" width="5.80" height="5.80" fill="#fff" stroke="#000" stroke-width="1.3" stroke-linejoin="round"/>
<rect x="125.82" y="325.00" width="5.80" height="5.80" fill="#fff" stroke="#000" stroke-width="1.3" stroke-linejoin="round"/>
<rect x="140.89" y="331.40" width="5.80" height="5.80" fill="#fff" stroke="#000" stroke-width="1.3" stroke-linejoin="round"/>
<rect x="155.96" y="332.00" width="5.80" height="5.80" fill="#fff" stroke="#000" stroke-width="1.3" stroke-linejoin="round"/>
<rect x="171.03" y="421.00" width="5.80" height="5.80" fill="#fff" stroke="#000" stroke-width="1.3" stroke-linejoin="round"/>
<rect x="186.10" y="457.10" width="5.80" height="5.80" fill="#fff" stroke="#000" stroke-width="1.3" stroke-linejoin="round"/>
<rect x="201.17" y="365.60" width="5.80" height="5.80" fill="#fff" stroke="#000" stroke-width="1.3" stroke-linejoin="round"/>
<rect x="216.24" y="343.70" width="5.80" height="5.80" fill="#fff" stroke="#000" stroke-width="1.3" stroke-linejoin="round"/>
<rect x="231.31" y="427.30" width="5.80" height="5.80" fill="#fff" stroke="#000" stroke-width="1.3" stroke-linejoin="round"/>
<rect x="246.38" y="353.30" width="5.80" height="5.80" fill="#fff" stroke="#000" stroke-width="1.3" stroke-linejoin="round"/>
<rect x="261.45" y="367.30" width="5.80" height="5.80" fill="#fff" stroke="#000" stroke-width="1.3" stroke-linejoin="round"/>
<rect x="276.52" y="444.80" width="5.80" height="5.80" fill="#fff" stroke="#000" stroke-width="1.3" stroke-linejoin="round"/>
<rect x="291.59" y="359.90" width="5.80" height="5.80" fill="#fff" stroke="#000" stroke-width="1.3" stroke-linejoin="round"/>
<rect x="306.66" y="362.40" width="5.80" height="5.80" fill="#fff" stroke="#000" stroke-width="1.3" stroke-linejoin="round"/>
<rect x="321.73" y="359.90" width="5.80" height="5.80" fill="#fff" stroke="#000" stroke-width="1.3" stroke-linejoin="round"/>
<rect x="336.80" y="361.20" width="5.80" height="5.80" fill="#fff" stroke="#000" stroke-width="1.3" stroke-linejoin="round"/>
<path d="M38.30 348.80L53.37 366.20L68.44 394.20L83.51 325.50L98.58 334.90L113.65 414.20L128.72 337.20L143.79 340.70L158.86 344.00L173.93 441.40L189.00 460.70L204.07 373.70L219.14 351.30L234.21 458.50L249.28 361.50L264.35 374.30L279.42 459.20L294.49 369.30L309.56 371.00L324.63 368.50L339.70 368.50" fill="none" stroke="#e9b42f" stroke-width="1.6" stroke-linejoin="round"/>
<rect x="35.40" y="345.90" width="5.80" height="5.80" fill="#fff" stroke="#000" stroke-width="1.3" stroke-linejoin="round"/>
<rect x="50.47" y="363.30" width="5.80" height="5.80" fill="#fff" stroke="#000" stroke-width="1.3" stroke-linejoin="round"/>
<rect x="65.54" y="391.30" width="5.80" height="5.80" fill="#fff" stroke="#000" stroke-width="1.3" stroke-linejoin="round"/>
<rect x="80.61" y="322.60" width="5.80" height="5.80" fill="#fff" stroke="#000" stroke-width="1.3" stroke-linejoin="round"/>
<rect x="95.68" y="332.00" width="5.80" height="5.80" fill="#fff" stroke="#000" stroke-width="1.3" stroke-linejoin="round"/>
<rect x="110.75" y="411.30" width="5.80" height="5.80" fill="#fff" stroke="#000" stroke-width="1.3" stroke-linejoin="round"/>
<rect x="125.82" y="334.30" width="5.80" height="5.80" fill="#fff" stroke="#000" stroke-width="1.3" stroke-linejoin="round"/>
<rect x="140.89" y="337.80" width="5.80" height="5.80" fill="#fff" stroke="#000" stroke-width="1.3" stroke-linejoin="round"/>
<rect x="155.96" y="341.10" width="5.80" height="5.80" fill="#fff" stroke="#000" stroke-width="1.3" stroke-linejoin="round"/>
<rect x="171.03" y="438.50" width="5.80" height="5.80" fill="#fff" stroke="#000" stroke-width="1.3" stroke-linejoin="round"/>
<rect x="186.10" y="457.80" width="5.80" height="5.80" fill="#fff" stroke="#000" stroke-width="1.3" stroke-linejoin="round"/>
<rect x="201.17" y="370.80" width="5.80" height="5.80" fill="#fff" stroke="#000" stroke-width="1.3" stroke-linejoin="round"/>
<rect x="216.24" y="348.40" width="5.80" height="5.80" fill="#fff" stroke="#000" stroke-width="1.3" stroke-linejoin="round"/>
<rect x="231.31" y="455.60" width="5.80" height="5.80" fill="#fff" stroke="#000" stroke-width="1.3" stroke-linejoin="round"/>
<rect x="246.38" y="358.60" width="5.80" height="5.80" fill="#fff" stroke="#000" stroke-width="1.3" stroke-linejoin="round"/>
<rect x="261.45" y="371.40" width="5.80" height="5.80" fill="#fff" stroke="#000" stroke-width="1.3" stroke-linejoin="round"/>
<rect x="276.52" y="456.30" width="5.80" height="5.80" fill="#fff" stroke="#000" stroke-width="1.3" stroke-linejoin="round"/>
<rect x="291.59" y="366.40" width="5.80" height="5.80" fill="#fff" stroke="#000" stroke-width="1.3" stroke-linejoin="round"/>
<rect x="306.66" y="368.10" width="5.80" height="5.80" fill="#fff" stroke="#000" stroke-width="1.3" stroke-linejoin="round"/>
<rect x="321.73" y="365.60" width="5.80" height="5.80" fill="#fff" stroke="#000" stroke-width="1.3" stroke-linejoin="round"/>
<rect x="336.80" y="365.60" width="5.80" height="5.80" fill="#fff" stroke="#000" stroke-width="1.3" stroke-linejoin="round"/>
<path d="M38.30 346.50L53.37 366.20L68.44 340.30L83.51 377.30L98.58 307.40L113.65 315.00L128.72 350.70L143.79 350.70L158.86 344.00L173.93 382.50L189.00 470.60L204.07 387.20L219.14 365.00L234.21 370.80L249.28 375.10L264.35 379.00L279.42 427.30L294.49 326.10L309.56 330.70L324.63 311.10L339.70 312.00" fill="none" stroke="#3f67b5" stroke-width="1.6" stroke-linejoin="round"/>
<rect x="35.40" y="343.60" width="5.80" height="5.80" fill="#fff" stroke="#000" stroke-width="1.3" stroke-linejoin="round"/>
<rect x="50.47" y="363.30" width="5.80" height="5.80" fill="#fff" stroke="#000" stroke-width="1.3" stroke-linejoin="round"/>
<rect x="65.54" y="337.40" width="5.80" height="5.80" fill="#fff" stroke="#000" stroke-width="1.3" stroke-linejoin="round"/>
<rect x="80.61" y="374.40" width="5.80" height="5.80" fill="#fff" stroke="#000" stroke-width="1.3" stroke-linejoin="round"/>
<rect x="95.68" y="304.50" width="5.80" height="5.80" fill="#fff" stroke="#000" stroke-width="1.3" stroke-linejoin="round"/>
<rect x="110.75" y="312.10" width="5.80" height="5.80" fill="#fff" stroke="#000" stroke-width="1.3" stroke-linejoin="round"/>
<rect x="125.82" y="347.80" width="5.80" height="5.80" fill="#fff" stroke="#000" stroke-width="1.3" stroke-linejoin="round"/>
<rect x="140.89" y="347.80" width="5.80" height="5.80" fill="#fff" stroke="#000" stroke-width="1.3" stroke-linejoin="round"/>
<rect x="155.96" y="341.10" width="5.80" height="5.80" fill="#fff" stroke="#000" stroke-width="1.3" stroke-linejoin="round"/>
<rect x="171.03" y="379.60" width="5.80" height="5.80" fill="#fff" stroke="#000" stroke-width="1.3" stroke-linejoin="round"/>
<rect x="186.10" y="467.70" width="5.80" height="5.80" fill="#fff" stroke="#000" stroke-width="1.3" stroke-linejoin="round"/>
<rect x="201.17" y="384.30" width="5.80" height="5.80" fill="#fff" stroke="#000" stroke-width="1.3" stroke-linejoin="round"/>
<rect x="216.24" y="362.10" width="5.80" height="5.80" fill="#fff" stroke="#000" stroke-width="1.3" stroke-linejoin="round"/>
<rect x="231.31" y="367.90" width="5.80" height="5.80" fill="#fff" stroke="#000" stroke-width="1.3" stroke-linejoin="round"/>
<rect x="246.38" y="372.20" width="5.80" height="5.80" fill="#fff" stroke="#000" stroke-width="1.3" stroke-linejoin="round"/>
<rect x="261.45" y="376.10" width="5.80" height="5.80" fill="#fff" stroke="#000" stroke-width="1.3" stroke-linejoin="round"/>
<rect x="276.52" y="424.40" width="5.80" height="5.80" fill="#fff" stroke="#000" stroke-width="1.3" stroke-linejoin="round"/>
<rect x="291.59" y="323.20" width="5.80" height="5.80" fill="#fff" stroke="#000" stroke-width="1.3" stroke-linejoin="round"/>
<rect x="306.66" y="327.80" width="5.80" height="5.80" fill="#fff" stroke="#000" stroke-width="1.3" stroke-linejoin="round"/>
<rect x="321.73" y="308.20" width="5.80" height="5.80" fill="#fff" stroke="#000" stroke-width="1.3" stroke-linejoin="round"/>
<rect x="336.80" y="309.10" width="5.80" height="5.80" fill="#fff" stroke="#000" stroke-width="1.3" stroke-linejoin="round"/>
<path d="M38.30 331.00L53.37 338.40L68.44 362.10L83.51 400.70L98.58 298.90L113.65 337.20L128.72 404.30L143.79 360.30L158.86 339.00L173.93 398.40L189.00 418.30L204.07 439.60L219.14 418.60L234.21 358.30L249.28 424.10L264.35 426.70L279.42 399.90L294.49 374.40L309.56 374.70L324.63 359.00L339.70 359.50" fill="none" stroke="#62a445" stroke-width="1.6" stroke-linejoin="round"/>
<rect x="35.40" y="328.10" width="5.80" height="5.80" fill="#fff" stroke="#000" stroke-width="1.3" stroke-linejoin="round"/>
<rect x="50.47" y="335.50" width="5.80" height="5.80" fill="#fff" stroke="#000" stroke-width="1.3" stroke-linejoin="round"/>
<rect x="65.54" y="359.20" width="5.80" height="5.80" fill="#fff" stroke="#000" stroke-width="1.3" stroke-linejoin="round"/>
<rect x="80.61" y="397.80" width="5.80" height="5.80" fill="#fff" stroke="#000" stroke-width="1.3" stroke-linejoin="round"/>
<rect x="95.68" y="296.00" width="5.80" height="5.80" fill="#fff" stroke="#000" stroke-width="1.3" stroke-linejoin="round"/>
<rect x="110.75" y="334.30" width="5.80" height="5.80" fill="#fff" stroke="#000" stroke-width="1.3" stroke-linejoin="round"/>
<rect x="125.82" y="401.40" width="5.80" height="5.80" fill="#fff" stroke="#000" stroke-width="1.3" stroke-linejoin="round"/>
<rect x="140.89" y="357.40" width="5.80" height="5.80" fill="#fff" stroke="#000" stroke-width="1.3" stroke-linejoin="round"/>
<rect x="155.96" y="336.10" width="5.80" height="5.80" fill="#fff" stroke="#000" stroke-width="1.3" stroke-linejoin="round"/>
<rect x="171.03" y="395.50" width="5.80" height="5.80" fill="#fff" stroke="#000" stroke-width="1.3" stroke-linejoin="round"/>
<rect x="186.10" y="415.40" width="5.80" height="5.80" fill="#fff" stroke="#000" stroke-width="1.3" stroke-linejoin="round"/>
<rect x="201.17" y="436.70" width="5.80" height="5.80" fill="#fff" stroke="#000" stroke-width="1.3" stroke-linejoin="round"/>
<rect x="216.24" y="415.70" width="5.80" height="5.80" fill="#fff" stroke="#000" stroke-width="1.3" stroke-linejoin="round"/>
<rect x="231.31" y="355.40" width="5.80" height="5.80" fill="#fff" stroke="#000" stroke-width="1.3" stroke-linejoin="round"/>
<rect x="246.38" y="421.20" width="5.80" height="5.80" fill="#fff" stroke="#000" stroke-width="1.3" stroke-linejoin="round"/>
<rect x="261.45" y="423.80" width="5.80" height="5.80" fill="#fff" stroke="#000" stroke-width="1.3" stroke-linejoin="round"/>
<rect x="276.52" y="397.00" width="5.80" height="5.80" fill="#fff" stroke="#000" stroke-width="1.3" stroke-linejoin="round"/>
<rect x="291.59" y="371.50" width="5.80" height="5.80" fill="#fff" stroke="#000" stroke-width="1.3" stroke-linejoin="round"/>
<rect x="306.66" y="371.80" width="5.80" height="5.80" fill="#fff" stroke="#000" stroke-width="1.3" stroke-linejoin="round"/>
<rect x="321.73" y="356.10" width="5.80" height="5.80" fill="#fff" stroke="#000" stroke-width="1.3" stroke-linejoin="round"/>
<rect x="336.80" y="356.60" width="5.80" height="5.80" fill="#fff" stroke="#000" stroke-width="1.3" stroke-linejoin="round"/>
<path d="M30.8 268.1V505.6H344.0" fill="none" stroke="#2a211f" stroke-width="1.5" stroke-linejoin="round"/>
<text x="21.60" y="271.40" text-anchor="end" class="yl" style="font-size:9.7px" textLength="20.86" lengthAdjust="spacingAndGlyphs">1.E+2</text>
<text x="21.60" y="310.85" text-anchor="end" class="yl" style="font-size:9.7px" textLength="20.86" lengthAdjust="spacingAndGlyphs">1.E+1</text>
<text x="21.60" y="350.30" text-anchor="end" class="yl" style="font-size:9.7px" textLength="20.86" lengthAdjust="spacingAndGlyphs">1.E+0</text>
<text x="21.60" y="389.75" text-anchor="end" class="yl" style="font-size:9.7px" textLength="18.88" lengthAdjust="spacingAndGlyphs">1.E-1</text>
<text x="21.60" y="429.20" text-anchor="end" class="yl" style="font-size:9.7px" textLength="18.88" lengthAdjust="spacingAndGlyphs">1.E-2</text>
<text x="21.60" y="468.65" text-anchor="end" class="yl" style="font-size:9.7px" textLength="18.88" lengthAdjust="spacingAndGlyphs">1.E-3</text>
<text x="21.60" y="508.10" text-anchor="end" class="yl" style="font-size:9.7px" textLength="18.88" lengthAdjust="spacingAndGlyphs">1.E-4</text>
<text x="40.4" y="284.4" class="pl" style="letter-spacing:0.6px">(c)</text>
<rect x="42.3" y="439.3" width="105.4" height="61.5" fill="#fff" stroke="#8a8a8a" stroke-width="1"/>
<line x1="52.2" y1="450.1" x2="71.8" y2="450.1" stroke="#b06fc4" stroke-width="1.5"/>
<rect x="59.20" y="447.30" width="5.60" height="5.60" fill="#fff" stroke="#000" stroke-width="1.3" stroke-linejoin="round"/>
<text x="73.60" y="453.70" text-anchor="start" class="lg" style="font-size:10.0px" textLength="16.30" lengthAdjust="spacingAndGlyphs">SL1</text>
<line x1="98.1" y1="450.1" x2="117.7" y2="450.1" stroke="#e9b42f" stroke-width="1.5"/>
<rect x="105.10" y="447.30" width="5.60" height="5.60" fill="#fff" stroke="#000" stroke-width="1.3" stroke-linejoin="round"/>
<text x="119.50" y="453.70" text-anchor="start" class="lg" style="font-size:10.0px" textLength="16.30" lengthAdjust="spacingAndGlyphs">SL4</text>
<line x1="52.2" y1="464.7" x2="71.8" y2="464.7" stroke="#dc7633" stroke-width="1.5"/>
<rect x="59.20" y="461.90" width="5.60" height="5.60" fill="#fff" stroke="#000" stroke-width="1.3" stroke-linejoin="round"/>
<text x="73.60" y="468.30" text-anchor="start" class="lg" style="font-size:10.0px" textLength="16.30" lengthAdjust="spacingAndGlyphs">SL2</text>
<line x1="98.1" y1="464.7" x2="117.7" y2="464.7" stroke="#3f67b5" stroke-width="1.5"/>
<rect x="105.10" y="461.90" width="5.60" height="5.60" fill="#fff" stroke="#000" stroke-width="1.3" stroke-linejoin="round"/>
<text x="119.50" y="468.30" text-anchor="start" class="lg" style="font-size:10.0px" textLength="16.30" lengthAdjust="spacingAndGlyphs">SL5</text>
<line x1="52.2" y1="479.3" x2="71.8" y2="479.3" stroke="#a3a3a3" stroke-width="1.5"/>
<rect x="59.20" y="476.50" width="5.60" height="5.60" fill="#fff" stroke="#000" stroke-width="1.3" stroke-linejoin="round"/>
<text x="73.60" y="482.90" text-anchor="start" class="lg" style="font-size:10.0px" textLength="16.30" lengthAdjust="spacingAndGlyphs">SL3</text>
<line x1="98.1" y1="479.3" x2="117.7" y2="479.3" stroke="#62a445" stroke-width="1.5"/>
<rect x="105.10" y="476.50" width="5.60" height="5.60" fill="#fff" stroke="#000" stroke-width="1.3" stroke-linejoin="round"/>
<text x="119.50" y="482.90" text-anchor="start" class="lg" style="font-size:10.0px" textLength="16.30" lengthAdjust="spacingAndGlyphs">SL6</text>
<text x="58.80" y="494.00" text-anchor="start" class="lg" style="font-size:9.6px" textLength="72.70" lengthAdjust="spacingAndGlyphs">(Kim et al., 2007)</text>
<line x1="367.3" y1="347.60" x2="683.8" y2="347.60" stroke="#d9d9d9" stroke-width="1.3"/>
<path d="M378.40 318.40L401.02 323.10L423.64 355.80L446.26 332.80L468.88 341.80L491.50 355.00L514.12 354.00L536.74 346.90L559.36 350.60L581.98 357.20L604.60 359.90L627.22 365.20L649.84 366.30L672.46 367.30" fill="none" stroke="#b06fc4" stroke-width="1.6" stroke-linejoin="round"/>
<rect x="375.50" y="315.50" width="5.80" height="5.80" fill="#fff" stroke="#000" stroke-width="1.3" stroke-linejoin="round"/>
<rect x="398.12" y="320.20" width="5.80" height="5.80" fill="#fff" stroke="#000" stroke-width="1.3" stroke-linejoin="round"/>
<rect x="420.74" y="352.90" width="5.80" height="5.80" fill="#fff" stroke="#000" stroke-width="1.3" stroke-linejoin="round"/>
<rect x="443.36" y="329.90" width="5.80" height="5.80" fill="#fff" stroke="#000" stroke-width="1.3" stroke-linejoin="round"/>
<rect x="465.98" y="338.90" width="5.80" height="5.80" fill="#fff" stroke="#000" stroke-width="1.3" stroke-linejoin="round"/>
<rect x="488.60" y="352.10" width="5.80" height="5.80" fill="#fff" stroke="#000" stroke-width="1.3" stroke-linejoin="round"/>
<rect x="511.22" y="351.10" width="5.80" height="5.80" fill="#fff" stroke="#000" stroke-width="1.3" stroke-linejoin="round"/>
<rect x="533.84" y="344.00" width="5.80" height="5.80" fill="#fff" stroke="#000" stroke-width="1.3" stroke-linejoin="round"/>
<rect x="556.46" y="347.70" width="5.80" height="5.80" fill="#fff" stroke="#000" stroke-width="1.3" stroke-linejoin="round"/>
<rect x="579.08" y="354.30" width="5.80" height="5.80" fill="#fff" stroke="#000" stroke-width="1.3" stroke-linejoin="round"/>
<rect x="601.70" y="357.00" width="5.80" height="5.80" fill="#fff" stroke="#000" stroke-width="1.3" stroke-linejoin="round"/>
<rect x="624.32" y="362.30" width="5.80" height="5.80" fill="#fff" stroke="#000" stroke-width="1.3" stroke-linejoin="round"/>
<rect x="646.94" y="363.40" width="5.80" height="5.80" fill="#fff" stroke="#000" stroke-width="1.3" stroke-linejoin="round"/>
<rect x="669.56" y="364.40" width="5.80" height="5.80" fill="#fff" stroke="#000" stroke-width="1.3" stroke-linejoin="round"/>
<path d="M378.40 329.50L401.02 334.80L423.64 366.30L446.26 344.70L468.88 353.80L491.50 368.10L514.12 364.30L536.74 362.80L559.36 364.40L581.98 369.60L604.60 369.30L627.22 370.00L649.84 369.10L672.46 369.30" fill="none" stroke="#dc7633" stroke-width="1.6" stroke-linejoin="round"/>
<rect x="375.50" y="326.60" width="5.80" height="5.80" fill="#fff" stroke="#000" stroke-width="1.3" stroke-linejoin="round"/>
<rect x="398.12" y="331.90" width="5.80" height="5.80" fill="#fff" stroke="#000" stroke-width="1.3" stroke-linejoin="round"/>
<rect x="420.74" y="363.40" width="5.80" height="5.80" fill="#fff" stroke="#000" stroke-width="1.3" stroke-linejoin="round"/>
<rect x="443.36" y="341.80" width="5.80" height="5.80" fill="#fff" stroke="#000" stroke-width="1.3" stroke-linejoin="round"/>
<rect x="465.98" y="350.90" width="5.80" height="5.80" fill="#fff" stroke="#000" stroke-width="1.3" stroke-linejoin="round"/>
<rect x="488.60" y="365.20" width="5.80" height="5.80" fill="#fff" stroke="#000" stroke-width="1.3" stroke-linejoin="round"/>
<rect x="511.22" y="361.40" width="5.80" height="5.80" fill="#fff" stroke="#000" stroke-width="1.3" stroke-linejoin="round"/>
<rect x="533.84" y="359.90" width="5.80" height="5.80" fill="#fff" stroke="#000" stroke-width="1.3" stroke-linejoin="round"/>
<rect x="556.46" y="361.50" width="5.80" height="5.80" fill="#fff" stroke="#000" stroke-width="1.3" stroke-linejoin="round"/>
<rect x="579.08" y="366.70" width="5.80" height="5.80" fill="#fff" stroke="#000" stroke-width="1.3" stroke-linejoin="round"/>
<rect x="601.70" y="366.40" width="5.80" height="5.80" fill="#fff" stroke="#000" stroke-width="1.3" stroke-linejoin="round"/>
<rect x="624.32" y="367.10" width="5.80" height="5.80" fill="#fff" stroke="#000" stroke-width="1.3" stroke-linejoin="round"/>
<rect x="646.94" y="366.20" width="5.80" height="5.80" fill="#fff" stroke="#000" stroke-width="1.3" stroke-linejoin="round"/>
<rect x="669.56" y="366.40" width="5.80" height="5.80" fill="#fff" stroke="#000" stroke-width="1.3" stroke-linejoin="round"/>
<path d="M378.40 332.40L401.02 334.80L423.64 369.00L446.26 347.00L468.88 357.00L491.50 371.00L514.12 364.00L536.74 362.80L559.36 364.40L581.98 363.70L604.60 359.90L627.22 361.70L649.84 363.80L672.46 364.50" fill="none" stroke="#a3a3a3" stroke-width="1.6" stroke-linejoin="round"/>
<rect x="375.50" y="329.50" width="5.80" height="5.80" fill="#fff" stroke="#000" stroke-width="1.3" stroke-linejoin="round"/>
<rect x="398.12" y="331.90" width="5.80" height="5.80" fill="#fff" stroke="#000" stroke-width="1.3" stroke-linejoin="round"/>
<rect x="420.74" y="366.10" width="5.80" height="5.80" fill="#fff" stroke="#000" stroke-width="1.3" stroke-linejoin="round"/>
<rect x="443.36" y="344.10" width="5.80" height="5.80" fill="#fff" stroke="#000" stroke-width="1.3" stroke-linejoin="round"/>
<rect x="465.98" y="354.10" width="5.80" height="5.80" fill="#fff" stroke="#000" stroke-width="1.3" stroke-linejoin="round"/>
<rect x="488.60" y="368.10" width="5.80" height="5.80" fill="#fff" stroke="#000" stroke-width="1.3" stroke-linejoin="round"/>
<rect x="511.22" y="361.10" width="5.80" height="5.80" fill="#fff" stroke="#000" stroke-width="1.3" stroke-linejoin="round"/>
<rect x="533.84" y="359.90" width="5.80" height="5.80" fill="#fff" stroke="#000" stroke-width="1.3" stroke-linejoin="round"/>
<rect x="556.46" y="361.50" width="5.80" height="5.80" fill="#fff" stroke="#000" stroke-width="1.3" stroke-linejoin="round"/>
<rect x="579.08" y="360.80" width="5.80" height="5.80" fill="#fff" stroke="#000" stroke-width="1.3" stroke-linejoin="round"/>
<rect x="601.70" y="357.00" width="5.80" height="5.80" fill="#fff" stroke="#000" stroke-width="1.3" stroke-linejoin="round"/>
<rect x="624.32" y="358.80" width="5.80" height="5.80" fill="#fff" stroke="#000" stroke-width="1.3" stroke-linejoin="round"/>
<rect x="646.94" y="360.90" width="5.80" height="5.80" fill="#fff" stroke="#000" stroke-width="1.3" stroke-linejoin="round"/>
<rect x="669.56" y="361.60" width="5.80" height="5.80" fill="#fff" stroke="#000" stroke-width="1.3" stroke-linejoin="round"/>
<path d="M378.40 338.10L401.02 342.10L423.64 374.50L446.26 352.30L468.88 362.20L491.50 375.10L514.12 370.30L536.74 367.30L559.36 371.60L581.98 371.00L604.60 369.80L627.22 370.50L649.84 369.60L672.46 369.80" fill="none" stroke="#e9b42f" stroke-width="1.6" stroke-linejoin="round"/>
<rect x="375.50" y="335.20" width="5.80" height="5.80" fill="#fff" stroke="#000" stroke-width="1.3" stroke-linejoin="round"/>
<rect x="398.12" y="339.20" width="5.80" height="5.80" fill="#fff" stroke="#000" stroke-width="1.3" stroke-linejoin="round"/>
<rect x="420.74" y="371.60" width="5.80" height="5.80" fill="#fff" stroke="#000" stroke-width="1.3" stroke-linejoin="round"/>
<rect x="443.36" y="349.40" width="5.80" height="5.80" fill="#fff" stroke="#000" stroke-width="1.3" stroke-linejoin="round"/>
<rect x="465.98" y="359.30" width="5.80" height="5.80" fill="#fff" stroke="#000" stroke-width="1.3" stroke-linejoin="round"/>
<rect x="488.60" y="372.20" width="5.80" height="5.80" fill="#fff" stroke="#000" stroke-width="1.3" stroke-linejoin="round"/>
<rect x="511.22" y="367.40" width="5.80" height="5.80" fill="#fff" stroke="#000" stroke-width="1.3" stroke-linejoin="round"/>
<rect x="533.84" y="364.40" width="5.80" height="5.80" fill="#fff" stroke="#000" stroke-width="1.3" stroke-linejoin="round"/>
<rect x="556.46" y="368.70" width="5.80" height="5.80" fill="#fff" stroke="#000" stroke-width="1.3" stroke-linejoin="round"/>
<rect x="579.08" y="368.10" width="5.80" height="5.80" fill="#fff" stroke="#000" stroke-width="1.3" stroke-linejoin="round"/>
<rect x="601.70" y="366.90" width="5.80" height="5.80" fill="#fff" stroke="#000" stroke-width="1.3" stroke-linejoin="round"/>
<rect x="624.32" y="367.60" width="5.80" height="5.80" fill="#fff" stroke="#000" stroke-width="1.3" stroke-linejoin="round"/>
<rect x="646.94" y="366.70" width="5.80" height="5.80" fill="#fff" stroke="#000" stroke-width="1.3" stroke-linejoin="round"/>
<rect x="669.56" y="366.90" width="5.80" height="5.80" fill="#fff" stroke="#000" stroke-width="1.3" stroke-linejoin="round"/>
<path d="M378.40 351.10L401.02 351.10L423.64 387.90L446.26 365.70L468.88 376.00L491.50 379.70L514.12 327.00L536.74 358.90L559.36 339.20L581.98 320.40L604.60 315.00L627.22 312.80L649.84 311.80L672.46 313.20" fill="none" stroke="#3f67b5" stroke-width="1.6" stroke-linejoin="round"/>
<rect x="375.50" y="348.20" width="5.80" height="5.80" fill="#fff" stroke="#000" stroke-width="1.3" stroke-linejoin="round"/>
<rect x="398.12" y="348.20" width="5.80" height="5.80" fill="#fff" stroke="#000" stroke-width="1.3" stroke-linejoin="round"/>
<rect x="420.74" y="385.00" width="5.80" height="5.80" fill="#fff" stroke="#000" stroke-width="1.3" stroke-linejoin="round"/>
<rect x="443.36" y="362.80" width="5.80" height="5.80" fill="#fff" stroke="#000" stroke-width="1.3" stroke-linejoin="round"/>
<rect x="465.98" y="373.10" width="5.80" height="5.80" fill="#fff" stroke="#000" stroke-width="1.3" stroke-linejoin="round"/>
<rect x="488.60" y="376.80" width="5.80" height="5.80" fill="#fff" stroke="#000" stroke-width="1.3" stroke-linejoin="round"/>
<rect x="511.22" y="324.10" width="5.80" height="5.80" fill="#fff" stroke="#000" stroke-width="1.3" stroke-linejoin="round"/>
<rect x="533.84" y="356.00" width="5.80" height="5.80" fill="#fff" stroke="#000" stroke-width="1.3" stroke-linejoin="round"/>
<rect x="556.46" y="336.30" width="5.80" height="5.80" fill="#fff" stroke="#000" stroke-width="1.3" stroke-linejoin="round"/>
<rect x="579.08" y="317.50" width="5.80" height="5.80" fill="#fff" stroke="#000" stroke-width="1.3" stroke-linejoin="round"/>
<rect x="601.70" y="312.10" width="5.80" height="5.80" fill="#fff" stroke="#000" stroke-width="1.3" stroke-linejoin="round"/>
<rect x="624.32" y="309.90" width="5.80" height="5.80" fill="#fff" stroke="#000" stroke-width="1.3" stroke-linejoin="round"/>
<rect x="646.94" y="308.90" width="5.80" height="5.80" fill="#fff" stroke="#000" stroke-width="1.3" stroke-linejoin="round"/>
<rect x="669.56" y="310.30" width="5.80" height="5.80" fill="#fff" stroke="#000" stroke-width="1.3" stroke-linejoin="round"/>
<path d="M378.40 405.00L401.02 361.10L423.64 440.60L446.26 419.40L468.88 425.00L491.50 427.50L514.12 375.20L536.74 399.70L559.36 386.70L581.98 369.60L604.60 364.10L627.22 361.70L649.84 359.60L672.46 360.70" fill="none" stroke="#62a445" stroke-width="1.6" stroke-linejoin="round"/>
<rect x="375.50" y="402.10" width="5.80" height="5.80" fill="#fff" stroke="#27336b" stroke-width="1.3" stroke-linejoin="round"/>
<rect x="398.12" y="358.20" width="5.80" height="5.80" fill="#fff" stroke="#27336b" stroke-width="1.3" stroke-linejoin="round"/>
<rect x="420.74" y="437.70" width="5.80" height="5.80" fill="#fff" stroke="#27336b" stroke-width="1.3" stroke-linejoin="round"/>
<rect x="443.36" y="416.50" width="5.80" height="5.80" fill="#fff" stroke="#27336b" stroke-width="1.3" stroke-linejoin="round"/>
<rect x="465.98" y="422.10" width="5.80" height="5.80" fill="#fff" stroke="#27336b" stroke-width="1.3" stroke-linejoin="round"/>
<rect x="488.60" y="424.60" width="5.80" height="5.80" fill="#fff" stroke="#27336b" stroke-width="1.3" stroke-linejoin="round"/>
<rect x="511.22" y="372.30" width="5.80" height="5.80" fill="#fff" stroke="#27336b" stroke-width="1.3" stroke-linejoin="round"/>
<rect x="533.84" y="396.80" width="5.80" height="5.80" fill="#fff" stroke="#27336b" stroke-width="1.3" stroke-linejoin="round"/>
<rect x="556.46" y="383.80" width="5.80" height="5.80" fill="#fff" stroke="#27336b" stroke-width="1.3" stroke-linejoin="round"/>
<rect x="579.08" y="366.70" width="5.80" height="5.80" fill="#fff" stroke="#27336b" stroke-width="1.3" stroke-linejoin="round"/>
<rect x="601.70" y="361.20" width="5.80" height="5.80" fill="#fff" stroke="#27336b" stroke-width="1.3" stroke-linejoin="round"/>
<rect x="624.32" y="358.80" width="5.80" height="5.80" fill="#fff" stroke="#27336b" stroke-width="1.3" stroke-linejoin="round"/>
<rect x="646.94" y="356.70" width="5.80" height="5.80" fill="#fff" stroke="#27336b" stroke-width="1.3" stroke-linejoin="round"/>
<rect x="669.56" y="357.80" width="5.80" height="5.80" fill="#fff" stroke="#27336b" stroke-width="1.3" stroke-linejoin="round"/>
<path d="M367.3 269.0V506.5H680.3" fill="none" stroke="#2a211f" stroke-width="1.5" stroke-linejoin="round"/>
<text x="375.0" y="285.3" class="pl" style="letter-spacing:0.6px">(d)</text>
<rect x="565.4" y="439.3" width="105.4" height="61.5" fill="#fff" stroke="#8a8a8a" stroke-width="1"/>
<line x1="575.3" y1="450.1" x2="594.9" y2="450.1" stroke="#b06fc4" stroke-width="1.5"/>
<rect x="582.30" y="447.30" width="5.60" height="5.60" fill="#fff" stroke="#000" stroke-width="1.3" stroke-linejoin="round"/>
<text x="596.70" y="453.70" text-anchor="start" class="lg" style="font-size:10.0px" textLength="16.30" lengthAdjust="spacingAndGlyphs">SL1</text>
<line x1="621.2" y1="450.1" x2="640.8" y2="450.1" stroke="#e9b42f" stroke-width="1.5"/>
<rect x="628.20" y="447.30" width="5.60" height="5.60" fill="#fff" stroke="#000" stroke-width="1.3" stroke-linejoin="round"/>
<text x="642.60" y="453.70" text-anchor="start" class="lg" style="font-size:10.0px" textLength="16.30" lengthAdjust="spacingAndGlyphs">SL4</text>
<line x1="575.3" y1="464.7" x2="594.9" y2="464.7" stroke="#dc7633" stroke-width="1.5"/>
<rect x="582.30" y="461.90" width="5.60" height="5.60" fill="#fff" stroke="#000" stroke-width="1.3" stroke-linejoin="round"/>
<text x="596.70" y="468.30" text-anchor="start" class="lg" style="font-size:10.0px" textLength="16.30" lengthAdjust="spacingAndGlyphs">SL2</text>
<line x1="621.2" y1="464.7" x2="640.8" y2="464.7" stroke="#3f67b5" stroke-width="1.5"/>
<rect x="628.20" y="461.90" width="5.60" height="5.60" fill="#fff" stroke="#000" stroke-width="1.3" stroke-linejoin="round"/>
<text x="642.60" y="468.30" text-anchor="start" class="lg" style="font-size:10.0px" textLength="16.30" lengthAdjust="spacingAndGlyphs">SL5</text>
<line x1="575.3" y1="479.3" x2="594.9" y2="479.3" stroke="#a3a3a3" stroke-width="1.5"/>
<rect x="582.30" y="476.50" width="5.60" height="5.60" fill="#fff" stroke="#000" stroke-width="1.3" stroke-linejoin="round"/>
<text x="596.70" y="482.90" text-anchor="start" class="lg" style="font-size:10.0px" textLength="16.30" lengthAdjust="spacingAndGlyphs">SL3</text>
<line x1="621.2" y1="479.3" x2="640.8" y2="479.3" stroke="#62a445" stroke-width="1.5"/>
<rect x="628.20" y="476.50" width="5.60" height="5.60" fill="#fff" stroke="#000" stroke-width="1.3" stroke-linejoin="round"/>
<text x="642.60" y="482.90" text-anchor="start" class="lg" style="font-size:10.0px" textLength="16.30" lengthAdjust="spacingAndGlyphs">SL6</text>
<text x="581.90" y="494.00" text-anchor="start" class="lg" style="font-size:9.6px" textLength="72.70" lengthAdjust="spacingAndGlyphs">(Kim et al., 2007)</text>
<line x1="30.8" y1="610.50" x2="347.5" y2="610.50" stroke="#d9d9d9" stroke-width="1.3"/>
<path d="M38.30 606.50L53.37 623.20L68.44 651.50L83.51 582.10L98.58 584.40L113.65 646.30L128.72 606.70L143.79 611.20L158.86 590.10L173.93 674.00L189.00 643.20L204.07 644.20L219.14 620.90L234.21 718.50L249.28 630.00L264.35 642.00L279.42 729.00L294.49 634.80L309.56 636.90L324.63 649.70L339.70 645.70" fill="none" stroke="#b06fc4" stroke-width="1.6" stroke-linejoin="round"/>
<path d="M38.30 603.10L41.70 606.50L38.30 609.90L34.90 606.50Z" fill="#fff" stroke="#000" stroke-width="1.35"/>
<path d="M53.37 619.80L56.77 623.20L53.37 626.60L49.97 623.20Z" fill="#fff" stroke="#000" stroke-width="1.35"/>
<path d="M68.44 648.10L71.84 651.50L68.44 654.90L65.04 651.50Z" fill="#fff" stroke="#000" stroke-width="1.35"/>
<path d="M83.51 578.70L86.91 582.10L83.51 585.50L80.11 582.10Z" fill="#fff" stroke="#000" stroke-width="1.35"/>
<path d="M98.58 581.00L101.98 584.40L98.58 587.80L95.18 584.40Z" fill="#fff" stroke="#000" stroke-width="1.35"/>
<path d="M113.65 642.90L117.05 646.30L113.65 649.70L110.25 646.30Z" fill="#fff" stroke="#000" stroke-width="1.35"/>
<path d="M128.72 603.30L132.12 606.70L128.72 610.10L125.32 606.70Z" fill="#fff" stroke="#000" stroke-width="1.35"/>
<path d="M143.79 607.80L147.19 611.20L143.79 614.60L140.39 611.20Z" fill="#fff" stroke="#000" stroke-width="1.35"/>
<path d="M158.86 586.70L162.26 590.10L158.86 593.50L155.46 590.10Z" fill="#fff" stroke="#000" stroke-width="1.35"/>
<path d="M173.93 670.60L177.33 674.00L173.93 677.40L170.53 674.00Z" fill="#fff" stroke="#000" stroke-width="1.35"/>
<path d="M189.00 639.80L192.40 643.20L189.00 646.60L185.60 643.20Z" fill="#fff" stroke="#000" stroke-width="1.35"/>
<path d="M204.07 640.80L207.47 644.20L204.07 647.60L200.67 644.20Z" fill="#fff" stroke="#000" stroke-width="1.35"/>
<path d="M219.14 617.50L222.54 620.90L219.14 624.30L215.74 620.90Z" fill="#fff" stroke="#000" stroke-width="1.35"/>
<path d="M234.21 715.10L237.61 718.50L234.21 721.90L230.81 718.50Z" fill="#fff" stroke="#000" stroke-width="1.35"/>
<path d="M249.28 626.60L252.68 630.00L249.28 633.40L245.88 630.00Z" fill="#fff" stroke="#000" stroke-width="1.35"/>
<path d="M264.35 638.60L267.75 642.00L264.35 645.40L260.95 642.00Z" fill="#fff" stroke="#000" stroke-width="1.35"/>
<path d="M279.42 725.60L282.82 729.00L279.42 732.40L276.02 729.00Z" fill="#fff" stroke="#000" stroke-width="1.35"/>
<path d="M294.49 631.40L297.89 634.80L294.49 638.20L291.09 634.80Z" fill="#fff" stroke="#000" stroke-width="1.35"/>
<path d="M309.56 633.50L312.96 636.90L309.56 640.30L306.16 636.90Z" fill="#fff" stroke="#000" stroke-width="1.35"/>
<path d="M324.63 646.30L328.03 649.70L324.63 653.10L321.23 649.70Z" fill="#fff" stroke="#000" stroke-width="1.35"/>
<path d="M339.70 642.30L343.10 645.70L339.70 649.10L336.30 645.70Z" fill="#fff" stroke="#000" stroke-width="1.35"/>
<path d="M38.30 602.30L53.37 625.50L68.44 662.70L83.51 573.50L98.58 584.40L113.65 633.10L128.72 614.90L143.79 616.60L158.86 600.90L173.93 698.80L189.00 669.00L204.07 652.20L219.14 631.20L234.21 744.50L249.28 641.30L264.35 651.50L279.42 744.80L294.49 645.20L309.56 649.70L324.63 655.50L339.70 655.60" fill="none" stroke="#dc7633" stroke-width="1.6" stroke-linejoin="round"/>
<path d="M38.30 598.90L41.70 602.30L38.30 605.70L34.90 602.30Z" fill="#fff" stroke="#000" stroke-width="1.35"/>
<path d="M53.37 622.10L56.77 625.50L53.37 628.90L49.97 625.50Z" fill="#fff" stroke="#000" stroke-width="1.35"/>
<path d="M68.44 659.30L71.84 662.70L68.44 666.10L65.04 662.70Z" fill="#fff" stroke="#000" stroke-width="1.35"/>
<path d="M83.51 570.10L86.91 573.50L83.51 576.90L80.11 573.50Z" fill="#fff" stroke="#000" stroke-width="1.35"/>
<path d="M98.58 581.00L101.98 584.40L98.58 587.80L95.18 584.40Z" fill="#fff" stroke="#000" stroke-width="1.35"/>
<path d="M113.65 629.70L117.05 633.10L113.65 636.50L110.25 633.10Z" fill="#fff" stroke="#000" stroke-width="1.35"/>
<path d="M128.72 611.50L132.12 614.90L128.72 618.30L125.32 614.90Z" fill="#fff" stroke="#000" stroke-width="1.35"/>
<path d="M143.79 613.20L147.19 616.60L143.79 620.00L140.39 616.60Z" fill="#fff" stroke="#000" stroke-width="1.35"/>
<path d="M158.86 597.50L162.26 600.90L158.86 604.30L155.46 600.90Z" fill="#fff" stroke="#000" stroke-width="1.35"/>
<path d="M173.93 695.40L177.33 698.80L173.93 702.20L170.53 698.80Z" fill="#fff" stroke="#000" stroke-width="1.35"/>
<path d="M189.00 665.60L192.40 669.00L189.00 672.40L185.60 669.00Z" fill="#fff" stroke="#000" stroke-width="1.35"/>
<path d="M204.07 648.80L207.47 652.20L204.07 655.60L200.67 652.20Z" fill="#fff" stroke="#000" stroke-width="1.35"/>
<path d="M219.14 627.80L222.54 631.20L219.14 634.60L215.74 631.20Z" fill="#fff" stroke="#000" stroke-width="1.35"/>
<path d="M234.21 741.10L237.61 744.50L234.21 747.90L230.81 744.50Z" fill="#fff" stroke="#000" stroke-width="1.35"/>
<path d="M249.28 637.90L252.68 641.30L249.28 644.70L245.88 641.30Z" fill="#fff" stroke="#000" stroke-width="1.35"/>
<path d="M264.35 648.10L267.75 651.50L264.35 654.90L260.95 651.50Z" fill="#fff" stroke="#000" stroke-width="1.35"/>
<path d="M279.42 741.40L282.82 744.80L279.42 748.20L276.02 744.80Z" fill="#fff" stroke="#000" stroke-width="1.35"/>
<path d="M294.49 641.80L297.89 645.20L294.49 648.60L291.09 645.20Z" fill="#fff" stroke="#000" stroke-width="1.35"/>
<path d="M309.56 646.30L312.96 649.70L309.56 653.10L306.16 649.70Z" fill="#fff" stroke="#000" stroke-width="1.35"/>
<path d="M324.63 652.10L328.03 655.50L324.63 658.90L321.23 655.50Z" fill="#fff" stroke="#000" stroke-width="1.35"/>
<path d="M339.70 652.20L343.10 655.60L339.70 659.00L336.30 655.60Z" fill="#fff" stroke="#000" stroke-width="1.35"/>
<path d="M38.30 610.30L53.37 626.00L68.44 664.20L83.51 573.50L98.58 584.40L113.65 671.40L128.72 611.40L143.79 616.60L158.86 606.70L173.93 698.80L189.00 669.00L204.07 648.30L219.14 626.10L234.21 742.50L249.28 635.20L264.35 648.10L279.42 740.10L294.49 641.10L309.56 645.20L324.63 652.00L339.70 650.30" fill="none" stroke="#a3a3a3" stroke-width="1.6" stroke-linejoin="round"/>
<path d="M38.30 606.90L41.70 610.30L38.30 613.70L34.90 610.30Z" fill="#fff" stroke="#000" stroke-width="1.35"/>
<path d="M53.37 622.60L56.77 626.00L53.37 629.40L49.97 626.00Z" fill="#fff" stroke="#000" stroke-width="1.35"/>
<path d="M68.44 660.80L71.84 664.20L68.44 667.60L65.04 664.20Z" fill="#fff" stroke="#000" stroke-width="1.35"/>
<path d="M83.51 570.10L86.91 573.50L83.51 576.90L80.11 573.50Z" fill="#fff" stroke="#000" stroke-width="1.35"/>
<path d="M98.58 581.00L101.98 584.40L98.58 587.80L95.18 584.40Z" fill="#fff" stroke="#000" stroke-width="1.35"/>
<path d="M113.65 668.00L117.05 671.40L113.65 674.80L110.25 671.40Z" fill="#fff" stroke="#000" stroke-width="1.35"/>
<path d="M128.72 608.00L132.12 611.40L128.72 614.80L125.32 611.40Z" fill="#fff" stroke="#000" stroke-width="1.35"/>
<path d="M143.79 613.20L147.19 616.60L143.79 620.00L140.39 616.60Z" fill="#fff" stroke="#000" stroke-width="1.35"/>
<path d="M158.86 603.30L162.26 606.70L158.86 610.10L155.46 606.70Z" fill="#fff" stroke="#000" stroke-width="1.35"/>
<path d="M173.93 695.40L177.33 698.80L173.93 702.20L170.53 698.80Z" fill="#fff" stroke="#000" stroke-width="1.35"/>
<path d="M189.00 665.60L192.40 669.00L189.00 672.40L185.60 669.00Z" fill="#fff" stroke="#000" stroke-width="1.35"/>
<path d="M204.07 644.90L207.47 648.30L204.07 651.70L200.67 648.30Z" fill="#fff" stroke="#000" stroke-width="1.35"/>
<path d="M219.14 622.70L222.54 626.10L219.14 629.50L215.74 626.10Z" fill="#fff" stroke="#000" stroke-width="1.35"/>
<path d="M234.21 739.10L237.61 742.50L234.21 745.90L230.81 742.50Z" fill="#fff" stroke="#000" stroke-width="1.35"/>
<path d="M249.28 631.80L252.68 635.20L249.28 638.60L245.88 635.20Z" fill="#fff" stroke="#000" stroke-width="1.35"/>
<path d="M264.35 644.70L267.75 648.10L264.35 651.50L260.95 648.10Z" fill="#fff" stroke="#000" stroke-width="1.35"/>
<path d="M279.42 736.70L282.82 740.10L279.42 743.50L276.02 740.10Z" fill="#fff" stroke="#000" stroke-width="1.35"/>
<path d="M294.49 637.70L297.89 641.10L294.49 644.50L291.09 641.10Z" fill="#fff" stroke="#000" stroke-width="1.35"/>
<path d="M309.56 641.80L312.96 645.20L309.56 648.60L306.16 645.20Z" fill="#fff" stroke="#000" stroke-width="1.35"/>
<path d="M324.63 648.60L328.03 652.00L324.63 655.40L321.23 652.00Z" fill="#fff" stroke="#000" stroke-width="1.35"/>
<path d="M339.70 646.90L343.10 650.30L339.70 653.70L336.30 650.30Z" fill="#fff" stroke="#000" stroke-width="1.35"/>
<path d="M38.30 607.00L53.37 624.00L68.44 662.70L83.51 558.60L98.58 572.30L113.65 662.20L128.72 593.30L143.79 597.60L158.86 603.00L173.93 691.30L189.00 662.40L204.07 630.50L219.14 608.00L234.21 707.40L249.28 616.50L264.35 632.00L279.42 723.20L294.49 626.60L309.56 628.00L324.63 630.80L339.70 629.70" fill="none" stroke="#e9b42f" stroke-width="1.6" stroke-linejoin="round"/>
<path d="M38.30 603.60L41.70 607.00L38.30 610.40L34.90 607.00Z" fill="#fff" stroke="#000" stroke-width="1.35"/>
<path d="M53.37 620.60L56.77 624.00L53.37 627.40L49.97 624.00Z" fill="#fff" stroke="#000" stroke-width="1.35"/>
<path d="M68.44 659.30L71.84 662.70L68.44 666.10L65.04 662.70Z" fill="#fff" stroke="#000" stroke-width="1.35"/>
<path d="M83.51 555.20L86.91 558.60L83.51 562.00L80.11 558.60Z" fill="#fff" stroke="#000" stroke-width="1.35"/>
<path d="M98.58 568.90L101.98 572.30L98.58 575.70L95.18 572.30Z" fill="#fff" stroke="#000" stroke-width="1.35"/>
<path d="M113.65 658.80L117.05 662.20L113.65 665.60L110.25 662.20Z" fill="#fff" stroke="#000" stroke-width="1.35"/>
<path d="M128.72 589.90L132.12 593.30L128.72 596.70L125.32 593.30Z" fill="#fff" stroke="#000" stroke-width="1.35"/>
<path d="M143.79 594.20L147.19 597.60L143.79 601.00L140.39 597.60Z" fill="#fff" stroke="#000" stroke-width="1.35"/>
<path d="M158.86 599.60L162.26 603.00L158.86 606.40L155.46 603.00Z" fill="#fff" stroke="#000" stroke-width="1.35"/>
<path d="M173.93 687.90L177.33 691.30L173.93 694.70L170.53 691.30Z" fill="#fff" stroke="#000" stroke-width="1.35"/>
<path d="M189.00 659.00L192.40 662.40L189.00 665.80L185.60 662.40Z" fill="#fff" stroke="#000" stroke-width="1.35"/>
<path d="M204.07 627.10L207.47 630.50L204.07 633.90L200.67 630.50Z" fill="#fff" stroke="#000" stroke-width="1.35"/>
<path d="M219.14 604.60L222.54 608.00L219.14 611.40L215.74 608.00Z" fill="#fff" stroke="#000" stroke-width="1.35"/>
<path d="M234.21 704.00L237.61 707.40L234.21 710.80L230.81 707.40Z" fill="#fff" stroke="#000" stroke-width="1.35"/>
<path d="M249.28 613.10L252.68 616.50L249.28 619.90L245.88 616.50Z" fill="#fff" stroke="#000" stroke-width="1.35"/>
<path d="M264.35 628.60L267.75 632.00L264.35 635.40L260.95 632.00Z" fill="#fff" stroke="#000" stroke-width="1.35"/>
<path d="M279.42 719.80L282.82 723.20L279.42 726.60L276.02 723.20Z" fill="#fff" stroke="#000" stroke-width="1.35"/>
<path d="M294.49 623.20L297.89 626.60L294.49 630.00L291.09 626.60Z" fill="#fff" stroke="#000" stroke-width="1.35"/>
<path d="M309.56 624.60L312.96 628.00L309.56 631.40L306.16 628.00Z" fill="#fff" stroke="#000" stroke-width="1.35"/>
<path d="M324.63 627.40L328.03 630.80L324.63 634.20L321.23 630.80Z" fill="#fff" stroke="#000" stroke-width="1.35"/>
<path d="M339.70 626.30L343.10 629.70L339.70 633.10L336.30 629.70Z" fill="#fff" stroke="#000" stroke-width="1.35"/>
<path d="M38.30 625.20L53.37 630.90L68.44 673.90L83.51 576.30L98.58 591.20L113.65 676.40L128.72 599.70L143.79 604.40L158.86 618.40L173.93 698.80L189.00 669.00L204.07 636.60L219.14 614.80L234.21 713.60L249.28 626.50L264.35 641.10L279.42 729.00L294.49 632.60L309.56 633.70L324.63 630.80L339.70 632.00" fill="none" stroke="#2f55a4" stroke-width="1.6" stroke-linejoin="round"/>
<path d="M38.30 621.80L41.70 625.20L38.30 628.60L34.90 625.20Z" fill="#fff" stroke="#000" stroke-width="1.35"/>
<path d="M53.37 627.50L56.77 630.90L53.37 634.30L49.97 630.90Z" fill="#fff" stroke="#000" stroke-width="1.35"/>
<path d="M68.44 670.50L71.84 673.90L68.44 677.30L65.04 673.90Z" fill="#fff" stroke="#000" stroke-width="1.35"/>
<path d="M83.51 572.90L86.91 576.30L83.51 579.70L80.11 576.30Z" fill="#fff" stroke="#000" stroke-width="1.35"/>
<path d="M98.58 587.80L101.98 591.20L98.58 594.60L95.18 591.20Z" fill="#fff" stroke="#000" stroke-width="1.35"/>
<path d="M113.65 673.00L117.05 676.40L113.65 679.80L110.25 676.40Z" fill="#fff" stroke="#000" stroke-width="1.35"/>
<path d="M128.72 596.30L132.12 599.70L128.72 603.10L125.32 599.70Z" fill="#fff" stroke="#000" stroke-width="1.35"/>
<path d="M143.79 601.00L147.19 604.40L143.79 607.80L140.39 604.40Z" fill="#fff" stroke="#000" stroke-width="1.35"/>
<path d="M158.86 615.00L162.26 618.40L158.86 621.80L155.46 618.40Z" fill="#fff" stroke="#000" stroke-width="1.35"/>
<path d="M173.93 695.40L177.33 698.80L173.93 702.20L170.53 698.80Z" fill="#fff" stroke="#000" stroke-width="1.35"/>
<path d="M189.00 665.60L192.40 669.00L189.00 672.40L185.60 669.00Z" fill="#fff" stroke="#000" stroke-width="1.35"/>
<path d="M204.07 633.20L207.47 636.60L204.07 640.00L200.67 636.60Z" fill="#fff" stroke="#000" stroke-width="1.35"/>
<path d="M219.14 611.40L222.54 614.80L219.14 618.20L215.74 614.80Z" fill="#fff" stroke="#000" stroke-width="1.35"/>
<path d="M234.21 710.20L237.61 713.60L234.21 717.00L230.81 713.60Z" fill="#fff" stroke="#000" stroke-width="1.35"/>
<path d="M249.28 623.10L252.68 626.50L249.28 629.90L245.88 626.50Z" fill="#fff" stroke="#000" stroke-width="1.35"/>
<path d="M264.35 637.70L267.75 641.10L264.35 644.50L260.95 641.10Z" fill="#fff" stroke="#000" stroke-width="1.35"/>
<path d="M279.42 725.60L282.82 729.00L279.42 732.40L276.02 729.00Z" fill="#fff" stroke="#000" stroke-width="1.35"/>
<path d="M294.49 629.20L297.89 632.60L294.49 636.00L291.09 632.60Z" fill="#fff" stroke="#000" stroke-width="1.35"/>
<path d="M309.56 630.30L312.96 633.70L309.56 637.10L306.16 633.70Z" fill="#fff" stroke="#000" stroke-width="1.35"/>
<path d="M324.63 627.40L328.03 630.80L324.63 634.20L321.23 630.80Z" fill="#fff" stroke="#000" stroke-width="1.35"/>
<path d="M339.70 628.60L343.10 632.00L339.70 635.40L336.30 632.00Z" fill="#fff" stroke="#000" stroke-width="1.35"/>
<path d="M38.30 648.40L53.37 649.40L68.44 678.00L83.51 591.20L98.58 604.70L113.65 681.20L128.72 614.90L143.79 620.10L158.86 643.20L173.93 707.00L189.00 674.70L204.07 652.20L219.14 631.20L234.21 727.60L249.28 641.30L264.35 655.70L279.42 736.10L294.49 644.00L309.56 644.00L324.63 640.30L339.70 640.60" fill="none" stroke="#62a445" stroke-width="1.6" stroke-linejoin="round"/>
<path d="M38.30 645.00L41.70 648.40L38.30 651.80L34.90 648.40Z" fill="#fff" stroke="#000" stroke-width="1.35"/>
<path d="M53.37 646.00L56.77 649.40L53.37 652.80L49.97 649.40Z" fill="#fff" stroke="#000" stroke-width="1.35"/>
<path d="M68.44 674.60L71.84 678.00L68.44 681.40L65.04 678.00Z" fill="#fff" stroke="#000" stroke-width="1.35"/>
<path d="M83.51 587.80L86.91 591.20L83.51 594.60L80.11 591.20Z" fill="#fff" stroke="#000" stroke-width="1.35"/>
<path d="M98.58 601.30L101.98 604.70L98.58 608.10L95.18 604.70Z" fill="#fff" stroke="#000" stroke-width="1.35"/>
<path d="M113.65 677.80L117.05 681.20L113.65 684.60L110.25 681.20Z" fill="#fff" stroke="#000" stroke-width="1.35"/>
<path d="M128.72 611.50L132.12 614.90L128.72 618.30L125.32 614.90Z" fill="#fff" stroke="#000" stroke-width="1.35"/>
<path d="M143.79 616.70L147.19 620.10L143.79 623.50L140.39 620.10Z" fill="#fff" stroke="#000" stroke-width="1.35"/>
<path d="M158.86 639.80L162.26 643.20L158.86 646.60L155.46 643.20Z" fill="#fff" stroke="#000" stroke-width="1.35"/>
<path d="M173.93 703.60L177.33 707.00L173.93 710.40L170.53 707.00Z" fill="#fff" stroke="#000" stroke-width="1.35"/>
<path d="M189.00 671.30L192.40 674.70L189.00 678.10L185.60 674.70Z" fill="#fff" stroke="#000" stroke-width="1.35"/>
<path d="M204.07 648.80L207.47 652.20L204.07 655.60L200.67 652.20Z" fill="#fff" stroke="#000" stroke-width="1.35"/>
<path d="M219.14 627.80L222.54 631.20L219.14 634.60L215.74 631.20Z" fill="#fff" stroke="#000" stroke-width="1.35"/>
<path d="M234.21 724.20L237.61 727.60L234.21 731.00L230.81 727.60Z" fill="#fff" stroke="#000" stroke-width="1.35"/>
<path d="M249.28 637.90L252.68 641.30L249.28 644.70L245.88 641.30Z" fill="#fff" stroke="#000" stroke-width="1.35"/>
<path d="M264.35 652.30L267.75 655.70L264.35 659.10L260.95 655.70Z" fill="#fff" stroke="#000" stroke-width="1.35"/>
<path d="M279.42 732.70L282.82 736.10L279.42 739.50L276.02 736.10Z" fill="#fff" stroke="#000" stroke-width="1.35"/>
<path d="M294.49 640.60L297.89 644.00L294.49 647.40L291.09 644.00Z" fill="#fff" stroke="#000" stroke-width="1.35"/>
<path d="M309.56 640.60L312.96 644.00L309.56 647.40L306.16 644.00Z" fill="#fff" stroke="#000" stroke-width="1.35"/>
<path d="M324.63 636.90L328.03 640.30L324.63 643.70L321.23 640.30Z" fill="#fff" stroke="#000" stroke-width="1.35"/>
<path d="M339.70 637.20L343.10 640.60L339.70 644.00L336.30 640.60Z" fill="#fff" stroke="#000" stroke-width="1.35"/>
<path d="M38.30 629.40L53.37 628.60L68.44 664.20L83.51 576.30L98.58 591.20L113.65 646.30L128.72 569.90L143.79 575.00L158.86 634.70L173.93 678.10L189.00 674.40L204.07 607.80L219.14 586.40L234.21 698.10L249.28 598.40L264.35 614.00L279.42 716.20L294.49 599.10L309.56 595.10L324.63 587.90L339.70 587.90" fill="none" stroke="#8fb6e4" stroke-width="1.6" stroke-linejoin="round"/>
<path d="M38.30 626.00L41.70 629.40L38.30 632.80L34.90 629.40Z" fill="#fff" stroke="#000" stroke-width="1.35"/>
<path d="M53.37 625.20L56.77 628.60L53.37 632.00L49.97 628.60Z" fill="#fff" stroke="#000" stroke-width="1.35"/>
<path d="M68.44 660.80L71.84 664.20L68.44 667.60L65.04 664.20Z" fill="#fff" stroke="#000" stroke-width="1.35"/>
<path d="M83.51 572.90L86.91 576.30L83.51 579.70L80.11 576.30Z" fill="#fff" stroke="#000" stroke-width="1.35"/>
<path d="M98.58 587.80L101.98 591.20L98.58 594.60L95.18 591.20Z" fill="#fff" stroke="#000" stroke-width="1.35"/>
<path d="M113.65 642.90L117.05 646.30L113.65 649.70L110.25 646.30Z" fill="#fff" stroke="#000" stroke-width="1.35"/>
<path d="M128.72 566.50L132.12 569.90L128.72 573.30L125.32 569.90Z" fill="#fff" stroke="#000" stroke-width="1.35"/>
<path d="M143.79 571.60L147.19 575.00L143.79 578.40L140.39 575.00Z" fill="#fff" stroke="#000" stroke-width="1.35"/>
<path d="M158.86 631.30L162.26 634.70L158.86 638.10L155.46 634.70Z" fill="#fff" stroke="#000" stroke-width="1.35"/>
<path d="M173.93 674.70L177.33 678.10L173.93 681.50L170.53 678.10Z" fill="#fff" stroke="#000" stroke-width="1.35"/>
<path d="M189.00 671.00L192.40 674.40L189.00 677.80L185.60 674.40Z" fill="#fff" stroke="#000" stroke-width="1.35"/>
<path d="M204.07 604.40L207.47 607.80L204.07 611.20L200.67 607.80Z" fill="#fff" stroke="#000" stroke-width="1.35"/>
<path d="M219.14 583.00L222.54 586.40L219.14 589.80L215.74 586.40Z" fill="#fff" stroke="#000" stroke-width="1.35"/>
<path d="M234.21 694.70L237.61 698.10L234.21 701.50L230.81 698.10Z" fill="#fff" stroke="#000" stroke-width="1.35"/>
<path d="M249.28 595.00L252.68 598.40L249.28 601.80L245.88 598.40Z" fill="#fff" stroke="#000" stroke-width="1.35"/>
<path d="M264.35 610.60L267.75 614.00L264.35 617.40L260.95 614.00Z" fill="#fff" stroke="#000" stroke-width="1.35"/>
<path d="M279.42 712.80L282.82 716.20L279.42 719.60L276.02 716.20Z" fill="#fff" stroke="#000" stroke-width="1.35"/>
<path d="M294.49 595.70L297.89 599.10L294.49 602.50L291.09 599.10Z" fill="#fff" stroke="#000" stroke-width="1.35"/>
<path d="M309.56 591.70L312.96 595.10L309.56 598.50L306.16 595.10Z" fill="#fff" stroke="#000" stroke-width="1.35"/>
<path d="M324.63 584.50L328.03 587.90L324.63 591.30L321.23 587.90Z" fill="#fff" stroke="#000" stroke-width="1.35"/>
<path d="M339.70 584.50L343.10 587.90L339.70 591.30L336.30 587.90Z" fill="#fff" stroke="#000" stroke-width="1.35"/>
<path d="M30.8 531.2V768.6H344.0" fill="none" stroke="#2a211f" stroke-width="1.5" stroke-linejoin="round"/>
<text x="21.60" y="534.40" text-anchor="end" class="yl" style="font-size:9.7px" textLength="20.86" lengthAdjust="spacingAndGlyphs">1.E+2</text>
<text x="21.60" y="573.90" text-anchor="end" class="yl" style="font-size:9.7px" textLength="20.86" lengthAdjust="spacingAndGlyphs">1.E+1</text>
<text x="21.60" y="613.40" text-anchor="end" class="yl" style="font-size:9.7px" textLength="20.86" lengthAdjust="spacingAndGlyphs">1.E+0</text>
<text x="21.60" y="652.90" text-anchor="end" class="yl" style="font-size:9.7px" textLength="18.88" lengthAdjust="spacingAndGlyphs">1.E-1</text>
<text x="21.60" y="692.40" text-anchor="end" class="yl" style="font-size:9.7px" textLength="18.88" lengthAdjust="spacingAndGlyphs">1.E-2</text>
<text x="21.60" y="731.90" text-anchor="end" class="yl" style="font-size:9.7px" textLength="18.88" lengthAdjust="spacingAndGlyphs">1.E-3</text>
<text x="21.60" y="771.40" text-anchor="end" class="yl" style="font-size:9.7px" textLength="18.88" lengthAdjust="spacingAndGlyphs">1.E-4</text>
<text x="38.30" y="783.10" text-anchor="middle" class="xl" style="font-size:9.8px" textLength="11.37" lengthAdjust="spacingAndGlyphs">Cs</text>
<text x="53.37" y="783.10" text-anchor="middle" class="xl" style="font-size:9.8px" textLength="11.89" lengthAdjust="spacingAndGlyphs">Rb</text>
<text x="68.44" y="783.10" text-anchor="middle" class="xl" style="font-size:9.8px" textLength="11.38" lengthAdjust="spacingAndGlyphs">Ba</text>
<text x="83.51" y="783.10" text-anchor="middle" class="xl" style="font-size:9.8px" textLength="10.85" lengthAdjust="spacingAndGlyphs">Th</text>
<text x="98.58" y="783.10" text-anchor="middle" class="xl" style="font-size:9.8px" textLength="6.72" lengthAdjust="spacingAndGlyphs">U</text>
<text x="113.65" y="783.10" text-anchor="middle" class="xl" style="font-size:9.8px" textLength="10.85" lengthAdjust="spacingAndGlyphs">Ta</text>
<text x="128.72" y="783.10" text-anchor="middle" class="xl" style="font-size:9.8px" textLength="10.34" lengthAdjust="spacingAndGlyphs">La</text>
<text x="143.79" y="783.10" text-anchor="middle" class="xl" style="font-size:9.8px" textLength="11.89" lengthAdjust="spacingAndGlyphs">Ce</text>
<text x="158.86" y="783.10" text-anchor="middle" class="xl" style="font-size:9.8px" textLength="11.38" lengthAdjust="spacingAndGlyphs">Pb</text>
<text x="173.93" y="783.10" text-anchor="middle" class="xl" style="font-size:9.8px" textLength="9.30" lengthAdjust="spacingAndGlyphs">Sr</text>
<text x="189.00" y="783.10" text-anchor="middle" class="xl" style="font-size:9.8px" textLength="6.20" lengthAdjust="spacingAndGlyphs">P</text>
<text x="204.07" y="783.10" text-anchor="middle" class="xl" style="font-size:9.8px" textLength="9.30" lengthAdjust="spacingAndGlyphs">Pr</text>
<text x="219.14" y="783.10" text-anchor="middle" class="xl" style="font-size:9.8px" textLength="11.89" lengthAdjust="spacingAndGlyphs">Nd</text>
<text x="234.21" y="783.10" text-anchor="middle" class="xl" style="font-size:9.8px" textLength="8.78" lengthAdjust="spacingAndGlyphs">Zr</text>
<text x="249.28" y="783.10" text-anchor="middle" class="xl" style="font-size:9.8px" textLength="13.95" lengthAdjust="spacingAndGlyphs">Sm</text>
<text x="264.35" y="783.10" text-anchor="middle" class="xl" style="font-size:9.8px" textLength="11.38" lengthAdjust="spacingAndGlyphs">Eu</text>
<text x="279.42" y="783.10" text-anchor="middle" class="xl" style="font-size:9.8px" textLength="7.75" lengthAdjust="spacingAndGlyphs">Ti</text>
<text x="294.49" y="783.10" text-anchor="middle" class="xl" style="font-size:9.8px" textLength="11.37" lengthAdjust="spacingAndGlyphs">Dy</text>
<text x="309.56" y="783.10" text-anchor="middle" class="xl" style="font-size:9.8px" textLength="6.20" lengthAdjust="spacingAndGlyphs">Y</text>
<text x="324.63" y="783.10" text-anchor="middle" class="xl" style="font-size:9.8px" textLength="11.38" lengthAdjust="spacingAndGlyphs">Yb</text>
<text x="339.70" y="783.10" text-anchor="middle" class="xl" style="font-size:9.8px" textLength="10.34" lengthAdjust="spacingAndGlyphs">Lu</text>
<text x="40.4" y="547.5" class="pl" style="letter-spacing:0.6px">(e)</text>
<rect x="42.3" y="690.4" width="105.4" height="73.1" fill="#fff" stroke="#8a8a8a" stroke-width="1"/>
<line x1="52.2" y1="701.3" x2="71.8" y2="701.3" stroke="#b06fc4" stroke-width="1.5"/>
<path d="M62.00 698.20L65.10 701.30L62.00 704.40L58.90 701.30Z" fill="#fff" stroke="#000" stroke-width="1.35"/>
<text x="73.60" y="704.90" text-anchor="start" class="lg" style="font-size:10.0px" textLength="16.30" lengthAdjust="spacingAndGlyphs">SL1</text>
<line x1="98.1" y1="701.3" x2="117.7" y2="701.3" stroke="#2f55a4" stroke-width="1.5"/>
<path d="M107.90 698.20L111.00 701.30L107.90 704.40L104.80 701.30Z" fill="#fff" stroke="#000" stroke-width="1.35"/>
<text x="119.50" y="704.90" text-anchor="start" class="lg" style="font-size:10.0px" textLength="16.30" lengthAdjust="spacingAndGlyphs">SL5</text>
<line x1="52.2" y1="715.0" x2="71.8" y2="715.0" stroke="#dc7633" stroke-width="1.5"/>
<path d="M62.00 711.90L65.10 715.00L62.00 718.10L58.90 715.00Z" fill="#fff" stroke="#000" stroke-width="1.35"/>
<text x="73.60" y="718.60" text-anchor="start" class="lg" style="font-size:10.0px" textLength="16.30" lengthAdjust="spacingAndGlyphs">SL2</text>
<line x1="98.1" y1="715.0" x2="117.7" y2="715.0" stroke="#62a445" stroke-width="1.5"/>
<path d="M107.90 711.90L111.00 715.00L107.90 718.10L104.80 715.00Z" fill="#fff" stroke="#000" stroke-width="1.35"/>
<text x="119.50" y="718.60" text-anchor="start" class="lg" style="font-size:10.0px" textLength="16.30" lengthAdjust="spacingAndGlyphs">SL6</text>
<line x1="52.2" y1="728.6" x2="71.8" y2="728.6" stroke="#a3a3a3" stroke-width="1.5"/>
<path d="M62.00 725.50L65.10 728.60L62.00 731.70L58.90 728.60Z" fill="#fff" stroke="#000" stroke-width="1.35"/>
<text x="73.60" y="732.20" text-anchor="start" class="lg" style="font-size:10.0px" textLength="16.30" lengthAdjust="spacingAndGlyphs">SL3</text>
<line x1="98.1" y1="728.6" x2="117.7" y2="728.6" stroke="#8fb6e4" stroke-width="1.5"/>
<path d="M107.90 725.50L111.00 728.60L107.90 731.70L104.80 728.60Z" fill="#fff" stroke="#000" stroke-width="1.35"/>
<text x="119.50" y="732.20" text-anchor="start" class="lg" style="font-size:10.0px" textLength="16.30" lengthAdjust="spacingAndGlyphs">SL7</text>
<line x1="52.2" y1="742.0" x2="71.8" y2="742.0" stroke="#e9b42f" stroke-width="1.5"/>
<path d="M62.00 738.90L65.10 742.00L62.00 745.10L58.90 742.00Z" fill="#fff" stroke="#000" stroke-width="1.35"/>
<text x="73.60" y="745.60" text-anchor="start" class="lg" style="font-size:10.0px" textLength="16.30" lengthAdjust="spacingAndGlyphs">SL4</text>
<text x="69.90" y="757.10" text-anchor="start" class="lg" style="font-size:9.6px" textLength="49.70" lengthAdjust="spacingAndGlyphs">(This study)</text>
<line x1="367.3" y1="609.50" x2="684.1" y2="609.50" stroke="#d9d9d9" stroke-width="1.3"/>
<path d="M378.60 605.20L401.21 610.20L423.82 640.00L446.43 618.90L469.04 628.50L491.65 641.60L514.26 633.70L536.87 629.80L559.48 632.80L582.09 639.00L604.70 640.00L627.31 644.20L649.92 648.40L672.53 644.90" fill="none" stroke="#b06fc4" stroke-width="1.6" stroke-linejoin="round"/>
<path d="M378.60 601.80L382.00 605.20L378.60 608.60L375.20 605.20Z" fill="#fff" stroke="#000" stroke-width="1.35"/>
<path d="M401.21 606.80L404.61 610.20L401.21 613.60L397.81 610.20Z" fill="#fff" stroke="#000" stroke-width="1.35"/>
<path d="M423.82 636.60L427.22 640.00L423.82 643.40L420.42 640.00Z" fill="#fff" stroke="#000" stroke-width="1.35"/>
<path d="M446.43 615.50L449.83 618.90L446.43 622.30L443.03 618.90Z" fill="#fff" stroke="#000" stroke-width="1.35"/>
<path d="M469.04 625.10L472.44 628.50L469.04 631.90L465.64 628.50Z" fill="#fff" stroke="#000" stroke-width="1.35"/>
<path d="M491.65 638.20L495.05 641.60L491.65 645.00L488.25 641.60Z" fill="#fff" stroke="#000" stroke-width="1.35"/>
<path d="M514.26 630.30L517.66 633.70L514.26 637.10L510.86 633.70Z" fill="#fff" stroke="#000" stroke-width="1.35"/>
<path d="M536.87 626.40L540.27 629.80L536.87 633.20L533.47 629.80Z" fill="#fff" stroke="#000" stroke-width="1.35"/>
<path d="M559.48 629.40L562.88 632.80L559.48 636.20L556.08 632.80Z" fill="#fff" stroke="#000" stroke-width="1.35"/>
<path d="M582.09 635.60L585.49 639.00L582.09 642.40L578.69 639.00Z" fill="#fff" stroke="#000" stroke-width="1.35"/>
<path d="M604.70 636.60L608.10 640.00L604.70 643.40L601.30 640.00Z" fill="#fff" stroke="#000" stroke-width="1.35"/>
<path d="M627.31 640.80L630.71 644.20L627.31 647.60L623.91 644.20Z" fill="#fff" stroke="#000" stroke-width="1.35"/>
<path d="M649.92 645.00L653.32 648.40L649.92 651.80L646.52 648.40Z" fill="#fff" stroke="#000" stroke-width="1.35"/>
<path d="M672.53 641.50L675.93 644.90L672.53 648.30L669.13 644.90Z" fill="#fff" stroke="#000" stroke-width="1.35"/>
<path d="M378.60 612.10L401.21 618.80L423.82 646.50L446.43 628.50L469.04 636.40L491.65 651.50L514.26 645.50L536.87 637.70L559.48 642.90L582.09 647.50L604.70 652.10L627.31 655.60L649.92 655.60L672.53 655.60" fill="none" stroke="#dc7633" stroke-width="1.6" stroke-linejoin="round"/>
<path d="M378.60 608.70L382.00 612.10L378.60 615.50L375.20 612.10Z" fill="#fff" stroke="#000" stroke-width="1.35"/>
<path d="M401.21 615.40L404.61 618.80L401.21 622.20L397.81 618.80Z" fill="#fff" stroke="#000" stroke-width="1.35"/>
<path d="M423.82 643.10L427.22 646.50L423.82 649.90L420.42 646.50Z" fill="#fff" stroke="#000" stroke-width="1.35"/>
<path d="M446.43 625.10L449.83 628.50L446.43 631.90L443.03 628.50Z" fill="#fff" stroke="#000" stroke-width="1.35"/>
<path d="M469.04 633.00L472.44 636.40L469.04 639.80L465.64 636.40Z" fill="#fff" stroke="#000" stroke-width="1.35"/>
<path d="M491.65 648.10L495.05 651.50L491.65 654.90L488.25 651.50Z" fill="#fff" stroke="#000" stroke-width="1.35"/>
<path d="M514.26 642.10L517.66 645.50L514.26 648.90L510.86 645.50Z" fill="#fff" stroke="#000" stroke-width="1.35"/>
<path d="M536.87 634.30L540.27 637.70L536.87 641.10L533.47 637.70Z" fill="#fff" stroke="#000" stroke-width="1.35"/>
<path d="M559.48 639.50L562.88 642.90L559.48 646.30L556.08 642.90Z" fill="#fff" stroke="#000" stroke-width="1.35"/>
<path d="M582.09 644.10L585.49 647.50L582.09 650.90L578.69 647.50Z" fill="#fff" stroke="#000" stroke-width="1.35"/>
<path d="M604.70 648.70L608.10 652.10L604.70 655.50L601.30 652.10Z" fill="#fff" stroke="#000" stroke-width="1.35"/>
<path d="M627.31 652.20L630.71 655.60L627.31 659.00L623.91 655.60Z" fill="#fff" stroke="#000" stroke-width="1.35"/>
<path d="M649.92 652.20L653.32 655.60L649.92 659.00L646.52 655.60Z" fill="#fff" stroke="#000" stroke-width="1.35"/>
<path d="M672.53 652.20L675.93 655.60L672.53 659.00L669.13 655.60Z" fill="#fff" stroke="#000" stroke-width="1.35"/>
<path d="M378.60 610.90L401.21 615.30L423.82 644.00L446.43 625.20L469.04 634.60L491.65 647.30L514.26 641.00L536.87 635.00L559.48 638.60L582.09 644.90L604.70 646.60L627.31 647.70L649.92 651.10L672.53 649.80" fill="none" stroke="#a3a3a3" stroke-width="1.6" stroke-linejoin="round"/>
<path d="M378.60 607.50L382.00 610.90L378.60 614.30L375.20 610.90Z" fill="#fff" stroke="#000" stroke-width="1.35"/>
<path d="M401.21 611.90L404.61 615.30L401.21 618.70L397.81 615.30Z" fill="#fff" stroke="#000" stroke-width="1.35"/>
<path d="M423.82 640.60L427.22 644.00L423.82 647.40L420.42 644.00Z" fill="#fff" stroke="#000" stroke-width="1.35"/>
<path d="M446.43 621.80L449.83 625.20L446.43 628.60L443.03 625.20Z" fill="#fff" stroke="#000" stroke-width="1.35"/>
<path d="M469.04 631.20L472.44 634.60L469.04 638.00L465.64 634.60Z" fill="#fff" stroke="#000" stroke-width="1.35"/>
<path d="M491.65 643.90L495.05 647.30L491.65 650.70L488.25 647.30Z" fill="#fff" stroke="#000" stroke-width="1.35"/>
<path d="M514.26 637.60L517.66 641.00L514.26 644.40L510.86 641.00Z" fill="#fff" stroke="#000" stroke-width="1.35"/>
<path d="M536.87 631.60L540.27 635.00L536.87 638.40L533.47 635.00Z" fill="#fff" stroke="#000" stroke-width="1.35"/>
<path d="M559.48 635.20L562.88 638.60L559.48 642.00L556.08 638.60Z" fill="#fff" stroke="#000" stroke-width="1.35"/>
<path d="M582.09 641.50L585.49 644.90L582.09 648.30L578.69 644.90Z" fill="#fff" stroke="#000" stroke-width="1.35"/>
<path d="M604.70 643.20L608.10 646.60L604.70 650.00L601.30 646.60Z" fill="#fff" stroke="#000" stroke-width="1.35"/>
<path d="M627.31 644.30L630.71 647.70L627.31 651.10L623.91 647.70Z" fill="#fff" stroke="#000" stroke-width="1.35"/>
<path d="M649.92 647.70L653.32 651.10L649.92 654.50L646.52 651.10Z" fill="#fff" stroke="#000" stroke-width="1.35"/>
<path d="M672.53 646.40L675.93 649.80L672.53 653.20L669.13 649.80Z" fill="#fff" stroke="#000" stroke-width="1.35"/>
<path d="M378.60 592.00L401.21 596.90L423.82 629.30L446.43 607.40L469.04 616.00L491.65 631.10L514.26 625.80L536.87 619.90L559.48 625.20L582.09 627.80L604.70 628.00L627.31 629.60L649.92 629.90L672.53 628.90" fill="none" stroke="#e9b42f" stroke-width="1.6" stroke-linejoin="round"/>
<path d="M378.60 588.60L382.00 592.00L378.60 595.40L375.20 592.00Z" fill="#fff" stroke="#000" stroke-width="1.35"/>
<path d="M401.21 593.50L404.61 596.90L401.21 600.30L397.81 596.90Z" fill="#fff" stroke="#000" stroke-width="1.35"/>
<path d="M423.82 625.90L427.22 629.30L423.82 632.70L420.42 629.30Z" fill="#fff" stroke="#000" stroke-width="1.35"/>
<path d="M446.43 604.00L449.83 607.40L446.43 610.80L443.03 607.40Z" fill="#fff" stroke="#000" stroke-width="1.35"/>
<path d="M469.04 612.60L472.44 616.00L469.04 619.40L465.64 616.00Z" fill="#fff" stroke="#000" stroke-width="1.35"/>
<path d="M491.65 627.70L495.05 631.10L491.65 634.50L488.25 631.10Z" fill="#fff" stroke="#000" stroke-width="1.35"/>
<path d="M514.26 622.40L517.66 625.80L514.26 629.20L510.86 625.80Z" fill="#fff" stroke="#000" stroke-width="1.35"/>
<path d="M536.87 616.50L540.27 619.90L536.87 623.30L533.47 619.90Z" fill="#fff" stroke="#000" stroke-width="1.35"/>
<path d="M559.48 621.80L562.88 625.20L559.48 628.60L556.08 625.20Z" fill="#fff" stroke="#000" stroke-width="1.35"/>
<path d="M582.09 624.40L585.49 627.80L582.09 631.20L578.69 627.80Z" fill="#fff" stroke="#000" stroke-width="1.35"/>
<path d="M604.70 624.60L608.10 628.00L604.70 631.40L601.30 628.00Z" fill="#fff" stroke="#000" stroke-width="1.35"/>
<path d="M627.31 626.20L630.71 629.60L627.31 633.00L623.91 629.60Z" fill="#fff" stroke="#000" stroke-width="1.35"/>
<path d="M649.92 626.50L653.32 629.90L649.92 633.30L646.52 629.90Z" fill="#fff" stroke="#000" stroke-width="1.35"/>
<path d="M672.53 625.50L675.93 628.90L672.53 632.30L669.13 628.90Z" fill="#fff" stroke="#000" stroke-width="1.35"/>
<path d="M378.60 598.80L401.21 603.20L423.82 635.70L446.43 614.00L469.04 625.80L491.65 640.30L514.26 631.80L536.87 629.50L559.48 631.80L582.09 633.50L604.70 631.70L627.31 633.50L649.92 629.90L672.53 631.70" fill="none" stroke="#2f55a4" stroke-width="1.6" stroke-linejoin="round"/>
<path d="M378.60 595.40L382.00 598.80L378.60 602.20L375.20 598.80Z" fill="#fff" stroke="#000" stroke-width="1.35"/>
<path d="M401.21 599.80L404.61 603.20L401.21 606.60L397.81 603.20Z" fill="#fff" stroke="#000" stroke-width="1.35"/>
<path d="M423.82 632.30L427.22 635.70L423.82 639.10L420.42 635.70Z" fill="#fff" stroke="#000" stroke-width="1.35"/>
<path d="M446.43 610.60L449.83 614.00L446.43 617.40L443.03 614.00Z" fill="#fff" stroke="#000" stroke-width="1.35"/>
<path d="M469.04 622.40L472.44 625.80L469.04 629.20L465.64 625.80Z" fill="#fff" stroke="#000" stroke-width="1.35"/>
<path d="M491.65 636.90L495.05 640.30L491.65 643.70L488.25 640.30Z" fill="#fff" stroke="#000" stroke-width="1.35"/>
<path d="M514.26 628.40L517.66 631.80L514.26 635.20L510.86 631.80Z" fill="#fff" stroke="#000" stroke-width="1.35"/>
<path d="M536.87 626.10L540.27 629.50L536.87 632.90L533.47 629.50Z" fill="#fff" stroke="#000" stroke-width="1.35"/>
<path d="M559.48 628.40L562.88 631.80L559.48 635.20L556.08 631.80Z" fill="#fff" stroke="#000" stroke-width="1.35"/>
<path d="M582.09 630.10L585.49 633.50L582.09 636.90L578.69 633.50Z" fill="#fff" stroke="#000" stroke-width="1.35"/>
<path d="M604.70 628.30L608.10 631.70L604.70 635.10L601.30 631.70Z" fill="#fff" stroke="#000" stroke-width="1.35"/>
<path d="M627.31 630.10L630.71 633.50L627.31 636.90L623.91 633.50Z" fill="#fff" stroke="#000" stroke-width="1.35"/>
<path d="M649.92 626.50L653.32 629.90L649.92 633.30L646.52 629.90Z" fill="#fff" stroke="#000" stroke-width="1.35"/>
<path d="M672.53 628.30L675.93 631.70L672.53 635.10L669.13 631.70Z" fill="#fff" stroke="#000" stroke-width="1.35"/>
<path d="M378.60 614.10L401.21 618.80L423.82 651.00L446.43 630.70L469.04 640.30L491.65 654.70L514.26 643.60L536.87 645.20L559.48 645.50L582.09 642.90L604.70 641.80L627.31 640.70L649.92 639.30L672.53 639.80" fill="none" stroke="#62a445" stroke-width="1.6" stroke-linejoin="round"/>
<path d="M378.60 610.70L382.00 614.10L378.60 617.50L375.20 614.10Z" fill="#fff" stroke="#27336b" stroke-width="1.35"/>
<path d="M401.21 615.40L404.61 618.80L401.21 622.20L397.81 618.80Z" fill="#fff" stroke="#27336b" stroke-width="1.35"/>
<path d="M423.82 647.60L427.22 651.00L423.82 654.40L420.42 651.00Z" fill="#fff" stroke="#27336b" stroke-width="1.35"/>
<path d="M446.43 627.30L449.83 630.70L446.43 634.10L443.03 630.70Z" fill="#fff" stroke="#27336b" stroke-width="1.35"/>
<path d="M469.04 636.90L472.44 640.30L469.04 643.70L465.64 640.30Z" fill="#fff" stroke="#27336b" stroke-width="1.35"/>
<path d="M491.65 651.30L495.05 654.70L491.65 658.10L488.25 654.70Z" fill="#fff" stroke="#27336b" stroke-width="1.35"/>
<path d="M514.26 640.20L517.66 643.60L514.26 647.00L510.86 643.60Z" fill="#fff" stroke="#27336b" stroke-width="1.35"/>
<path d="M536.87 641.80L540.27 645.20L536.87 648.60L533.47 645.20Z" fill="#fff" stroke="#27336b" stroke-width="1.35"/>
<path d="M559.48 642.10L562.88 645.50L559.48 648.90L556.08 645.50Z" fill="#fff" stroke="#27336b" stroke-width="1.35"/>
<path d="M582.09 639.50L585.49 642.90L582.09 646.30L578.69 642.90Z" fill="#fff" stroke="#27336b" stroke-width="1.35"/>
<path d="M604.70 638.40L608.10 641.80L604.70 645.20L601.30 641.80Z" fill="#fff" stroke="#27336b" stroke-width="1.35"/>
<path d="M627.31 637.30L630.71 640.70L627.31 644.10L623.91 640.70Z" fill="#fff" stroke="#27336b" stroke-width="1.35"/>
<path d="M649.92 635.90L653.32 639.30L649.92 642.70L646.52 639.30Z" fill="#fff" stroke="#27336b" stroke-width="1.35"/>
<path d="M672.53 636.40L675.93 639.80L672.53 643.20L669.13 639.80Z" fill="#fff" stroke="#27336b" stroke-width="1.35"/>
<path d="M378.60 568.90L401.21 574.20L423.82 607.10L446.43 585.50L469.04 597.60L491.65 613.40L514.26 598.20L536.87 603.50L559.48 603.50L582.09 594.70L604.70 591.20L627.31 588.70L649.92 587.30L672.53 587.30" fill="none" stroke="#8fb6e4" stroke-width="1.6" stroke-linejoin="round"/>
<path d="M378.60 565.50L382.00 568.90L378.60 572.30L375.20 568.90Z" fill="#fff" stroke="#000" stroke-width="1.35"/>
<path d="M401.21 570.80L404.61 574.20L401.21 577.60L397.81 574.20Z" fill="#fff" stroke="#000" stroke-width="1.35"/>
<path d="M423.82 603.70L427.22 607.10L423.82 610.50L420.42 607.10Z" fill="#fff" stroke="#000" stroke-width="1.35"/>
<path d="M446.43 582.10L449.83 585.50L446.43 588.90L443.03 585.50Z" fill="#fff" stroke="#000" stroke-width="1.35"/>
<path d="M469.04 594.20L472.44 597.60L469.04 601.00L465.64 597.60Z" fill="#fff" stroke="#000" stroke-width="1.35"/>
<path d="M491.65 610.00L495.05 613.40L491.65 616.80L488.25 613.40Z" fill="#fff" stroke="#000" stroke-width="1.35"/>
<path d="M514.26 594.80L517.66 598.20L514.26 601.60L510.86 598.20Z" fill="#fff" stroke="#000" stroke-width="1.35"/>
<path d="M536.87 600.10L540.27 603.50L536.87 606.90L533.47 603.50Z" fill="#fff" stroke="#000" stroke-width="1.35"/>
<path d="M559.48 600.10L562.88 603.50L559.48 606.90L556.08 603.50Z" fill="#fff" stroke="#000" stroke-width="1.35"/>
<path d="M582.09 591.30L585.49 594.70L582.09 598.10L578.69 594.70Z" fill="#fff" stroke="#000" stroke-width="1.35"/>
<path d="M604.70 587.80L608.10 591.20L604.70 594.60L601.30 591.20Z" fill="#fff" stroke="#000" stroke-width="1.35"/>
<path d="M627.31 585.30L630.71 588.70L627.31 592.10L623.91 588.70Z" fill="#fff" stroke="#000" stroke-width="1.35"/>
<path d="M649.92 583.90L653.32 587.30L649.92 590.70L646.52 587.30Z" fill="#fff" stroke="#000" stroke-width="1.35"/>
<path d="M672.53 583.90L675.93 587.30L672.53 590.70L669.13 587.30Z" fill="#fff" stroke="#000" stroke-width="1.35"/>
<path d="M367.3 531.2V768.6H680.6" fill="none" stroke="#2a211f" stroke-width="1.5" stroke-linejoin="round"/>
<text x="378.60" y="783.10" text-anchor="middle" class="xl" style="font-size:9.8px" textLength="10.34" lengthAdjust="spacingAndGlyphs">La</text>
<text x="401.21" y="783.10" text-anchor="middle" class="xl" style="font-size:9.8px" textLength="11.89" lengthAdjust="spacingAndGlyphs">Ce</text>
<text x="423.82" y="783.10" text-anchor="middle" class="xl" style="font-size:9.8px" textLength="9.30" lengthAdjust="spacingAndGlyphs">Pr</text>
<text x="446.43" y="783.10" text-anchor="middle" class="xl" style="font-size:9.8px" textLength="11.89" lengthAdjust="spacingAndGlyphs">Nd</text>
<text x="469.04" y="783.10" text-anchor="middle" class="xl" style="font-size:9.8px" textLength="13.95" lengthAdjust="spacingAndGlyphs">Sm</text>
<text x="491.65" y="783.10" text-anchor="middle" class="xl" style="font-size:9.8px" textLength="11.38" lengthAdjust="spacingAndGlyphs">Eu</text>
<text x="514.26" y="783.10" text-anchor="middle" class="xl" style="font-size:9.8px" textLength="11.37" lengthAdjust="spacingAndGlyphs">Dy</text>
<text x="536.87" y="783.10" text-anchor="middle" class="xl" style="font-size:9.8px" textLength="12.41" lengthAdjust="spacingAndGlyphs">Gd</text>
<text x="559.48" y="783.10" text-anchor="middle" class="xl" style="font-size:9.8px" textLength="10.85" lengthAdjust="spacingAndGlyphs">Tb</text>
<text x="582.09" y="783.10" text-anchor="middle" class="xl" style="font-size:9.8px" textLength="11.89" lengthAdjust="spacingAndGlyphs">Ho</text>
<text x="604.70" y="783.10" text-anchor="middle" class="xl" style="font-size:9.8px" textLength="9.30" lengthAdjust="spacingAndGlyphs">Er</text>
<text x="627.31" y="783.10" text-anchor="middle" class="xl" style="font-size:9.8px" textLength="13.43" lengthAdjust="spacingAndGlyphs">Tm</text>
<text x="649.92" y="783.10" text-anchor="middle" class="xl" style="font-size:9.8px" textLength="11.38" lengthAdjust="spacingAndGlyphs">Yb</text>
<text x="672.53" y="783.10" text-anchor="middle" class="xl" style="font-size:9.8px" textLength="10.34" lengthAdjust="spacingAndGlyphs">Lu</text>
<text x="375.0" y="547.5" class="pl" style="letter-spacing:1.3px">(f)</text>
<rect x="565.4" y="690.4" width="105.4" height="73.1" fill="#fff" stroke="#8a8a8a" stroke-width="1"/>
<line x1="575.3" y1="701.3" x2="594.9" y2="701.3" stroke="#b06fc4" stroke-width="1.5"/>
<path d="M585.10 698.20L588.20 701.30L585.10 704.40L582.00 701.30Z" fill="#fff" stroke="#000" stroke-width="1.35"/>
<text x="596.70" y="704.90" text-anchor="start" class="lg" style="font-size:10.0px" textLength="16.30" lengthAdjust="spacingAndGlyphs">SL1</text>
<line x1="621.2" y1="701.3" x2="640.8" y2="701.3" stroke="#2f55a4" stroke-width="1.5"/>
<path d="M631.00 698.20L634.10 701.30L631.00 704.40L627.90 701.30Z" fill="#fff" stroke="#000" stroke-width="1.35"/>
<text x="642.60" y="704.90" text-anchor="start" class="lg" style="font-size:10.0px" textLength="16.30" lengthAdjust="spacingAndGlyphs">SL5</text>
<line x1="575.3" y1="715.0" x2="594.9" y2="715.0" stroke="#dc7633" stroke-width="1.5"/>
<path d="M585.10 711.90L588.20 715.00L585.10 718.10L582.00 715.00Z" fill="#fff" stroke="#000" stroke-width="1.35"/>
<text x="596.70" y="718.60" text-anchor="start" class="lg" style="font-size:10.0px" textLength="16.30" lengthAdjust="spacingAndGlyphs">SL2</text>
<line x1="621.2" y1="715.0" x2="640.8" y2="715.0" stroke="#62a445" stroke-width="1.5"/>
<path d="M631.00 711.90L634.10 715.00L631.00 718.10L627.90 715.00Z" fill="#fff" stroke="#000" stroke-width="1.35"/>
<text x="642.60" y="718.60" text-anchor="start" class="lg" style="font-size:10.0px" textLength="16.30" lengthAdjust="spacingAndGlyphs">SL6</text>
<line x1="575.3" y1="728.6" x2="594.9" y2="728.6" stroke="#a3a3a3" stroke-width="1.5"/>
<path d="M585.10 725.50L588.20 728.60L585.10 731.70L582.00 728.60Z" fill="#fff" stroke="#000" stroke-width="1.35"/>
<text x="596.70" y="732.20" text-anchor="start" class="lg" style="font-size:10.0px" textLength="16.30" lengthAdjust="spacingAndGlyphs">SL3</text>
<line x1="621.2" y1="728.6" x2="640.8" y2="728.6" stroke="#8fb6e4" stroke-width="1.5"/>
<path d="M631.00 725.50L634.10 728.60L631.00 731.70L627.90 728.60Z" fill="#fff" stroke="#000" stroke-width="1.35"/>
<text x="642.60" y="732.20" text-anchor="start" class="lg" style="font-size:10.0px" textLength="16.30" lengthAdjust="spacingAndGlyphs">SL7</text>
<line x1="575.3" y1="742.0" x2="594.9" y2="742.0" stroke="#e9b42f" stroke-width="1.5"/>
<path d="M585.10 738.90L588.20 742.00L585.10 745.10L582.00 742.00Z" fill="#fff" stroke="#000" stroke-width="1.35"/>
<text x="596.70" y="745.60" text-anchor="start" class="lg" style="font-size:10.0px" textLength="16.30" lengthAdjust="spacingAndGlyphs">SL4</text>
<text x="593.00" y="757.10" text-anchor="start" class="lg" style="font-size:9.6px" textLength="49.70" lengthAdjust="spacingAndGlyphs">(This study)</text>
</svg>
</body></html>
